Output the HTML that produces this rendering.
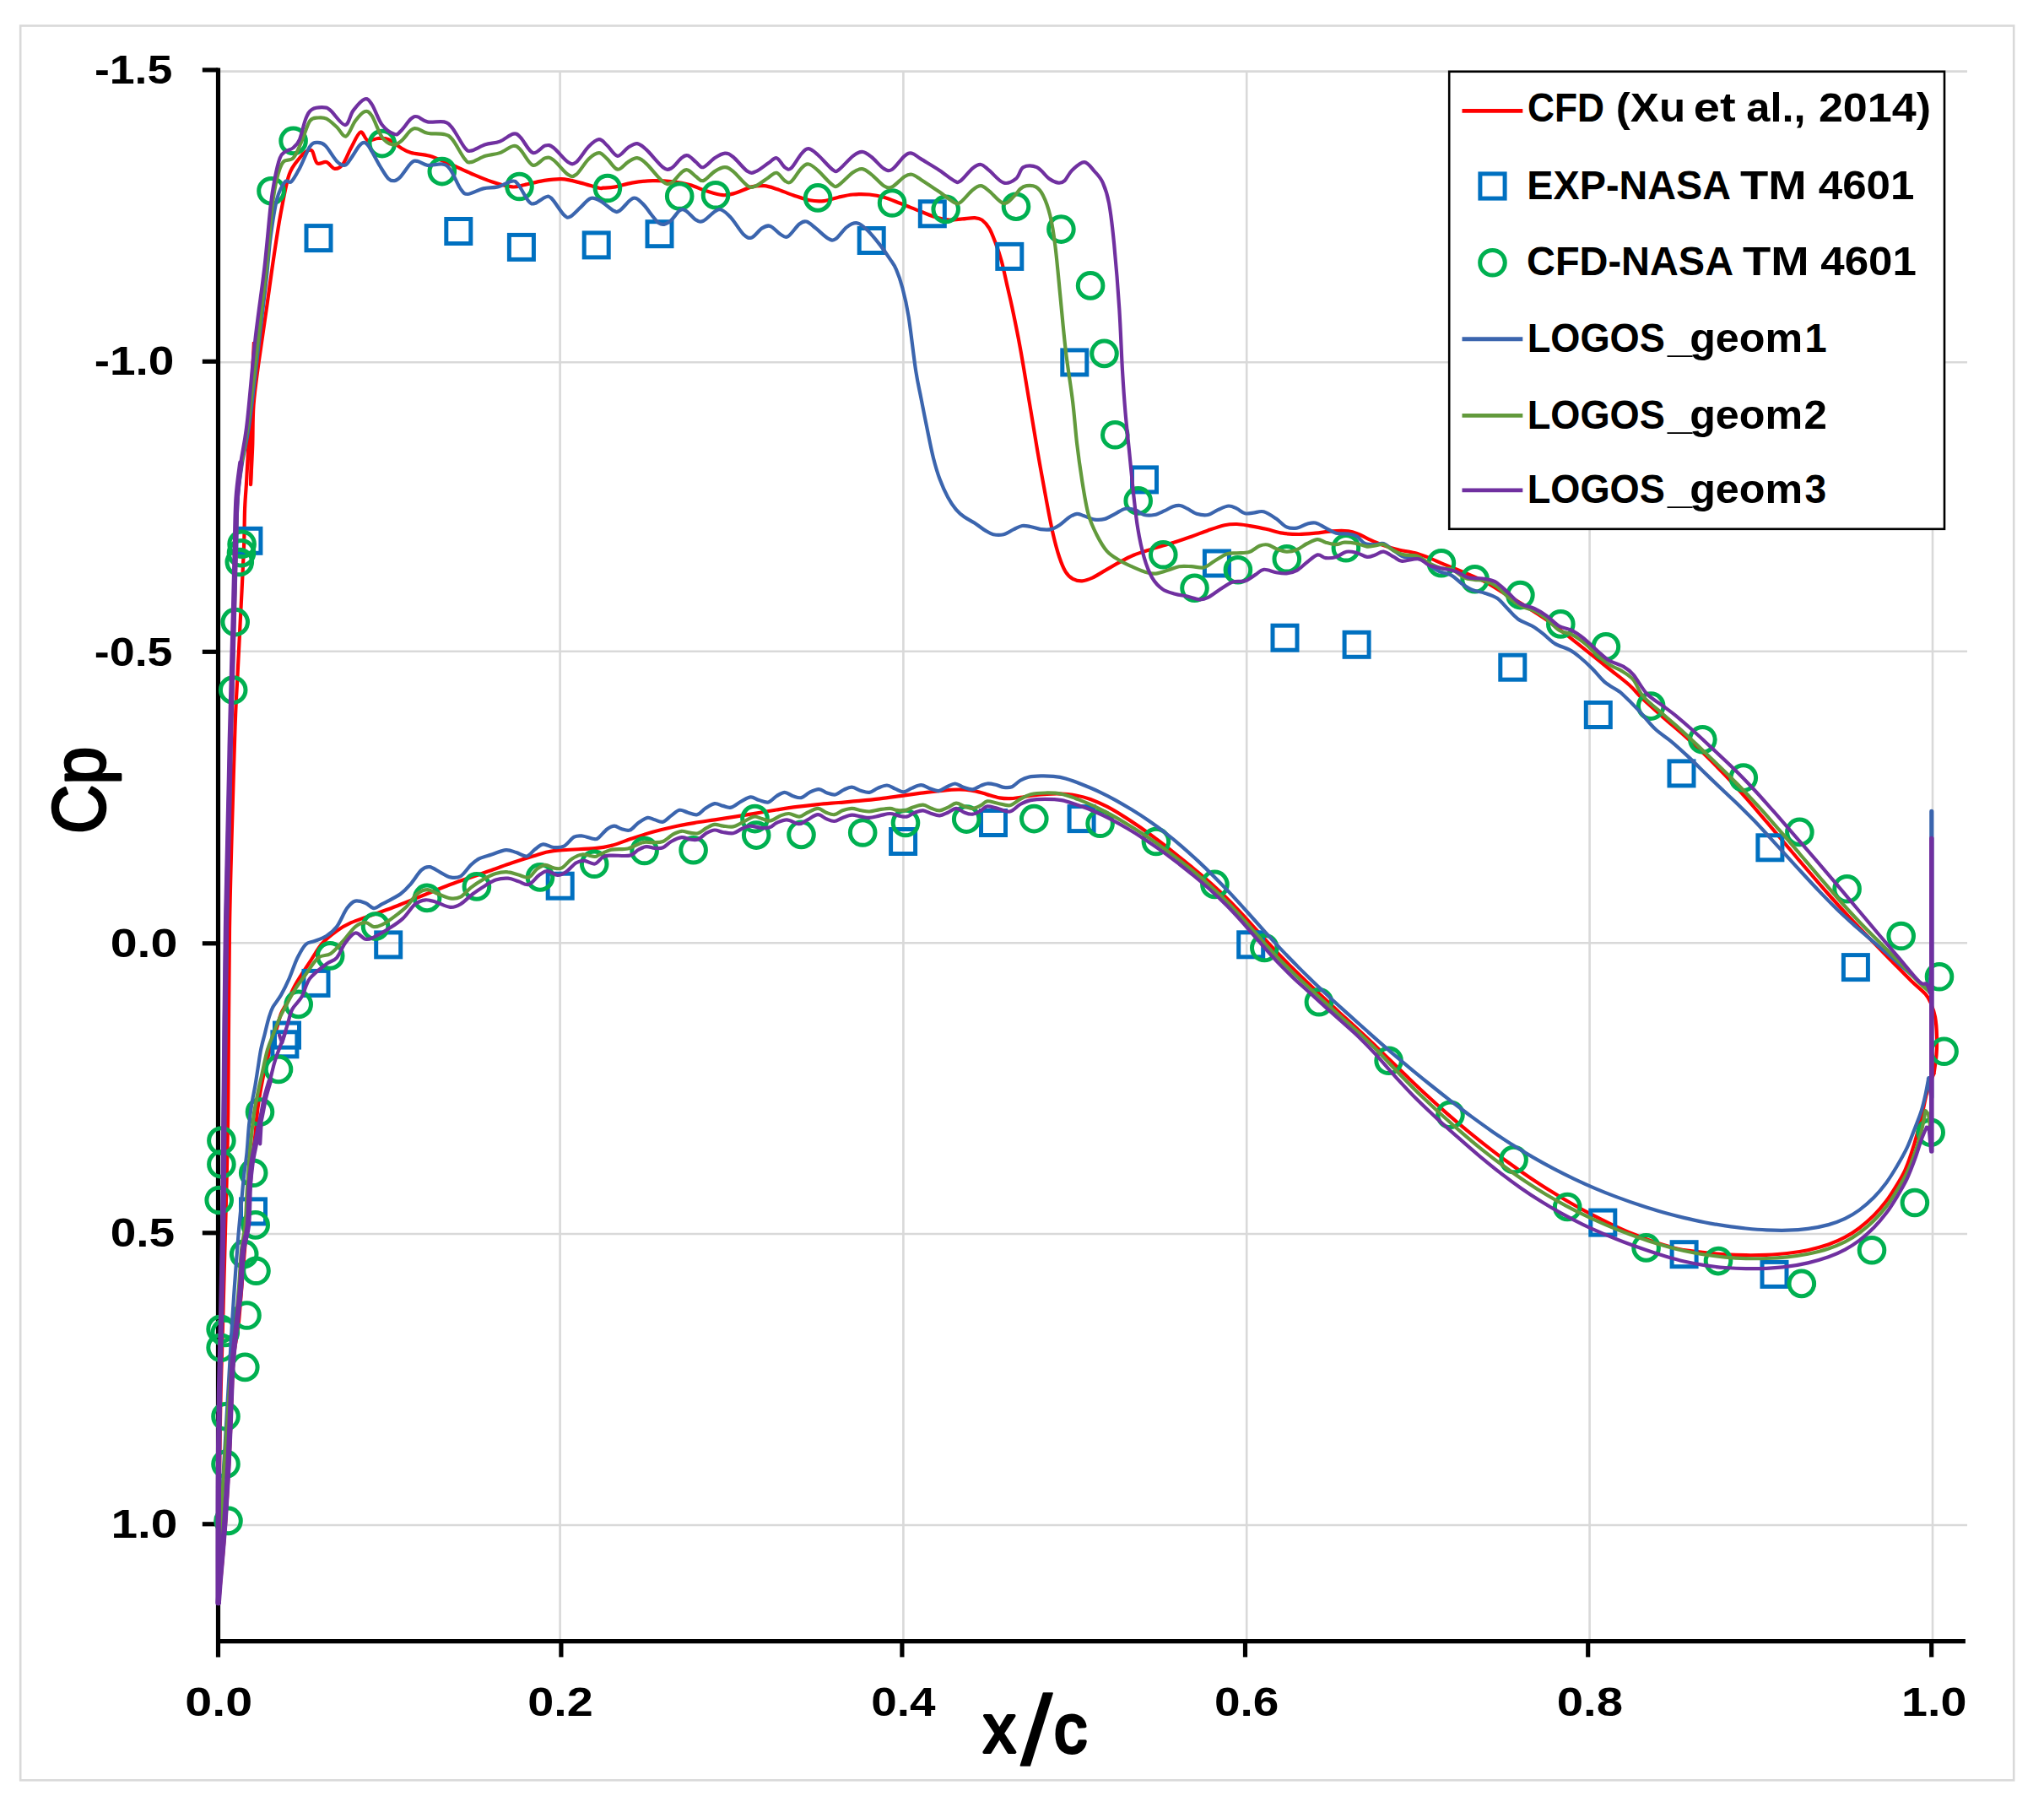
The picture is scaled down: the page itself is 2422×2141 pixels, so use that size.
<!DOCTYPE html>
<html><head><meta charset="utf-8"><title>Cp distribution</title>
<style>html,body{margin:0;padding:0;background:#fff}svg{display:block}</style></head>
<body>
<svg width="2422" height="2141" viewBox="0 0 2422 2141" font-family="&quot;Liberation Sans&quot;, sans-serif" font-weight="bold">
<rect x="0" y="0" width="2422" height="2141" fill="#fff"/>
<rect x="24.2" y="30.5" width="2362" height="2078.8" fill="none" stroke="#D9D9D9" stroke-width="2.6"/>
<line x1="258" y1="84.6" x2="2331" y2="84.6" stroke="#D9D9D9" stroke-width="2.6"/>
<line x1="258" y1="429.2" x2="2331" y2="429.2" stroke="#D9D9D9" stroke-width="2.6"/>
<line x1="258" y1="771.8" x2="2331" y2="771.8" stroke="#D9D9D9" stroke-width="2.6"/>
<line x1="258" y1="1117.3" x2="2331" y2="1117.3" stroke="#D9D9D9" stroke-width="2.6"/>
<line x1="258" y1="1462.0" x2="2331" y2="1462.0" stroke="#D9D9D9" stroke-width="2.6"/>
<line x1="258" y1="1807.0" x2="2331" y2="1807.0" stroke="#D9D9D9" stroke-width="2.6"/>
<line x1="663.6" y1="84.6" x2="663.6" y2="1944" stroke="#D9D9D9" stroke-width="2.6"/>
<line x1="1070.4" y1="84.6" x2="1070.4" y2="1944" stroke="#D9D9D9" stroke-width="2.6"/>
<line x1="1477.2" y1="84.6" x2="1477.2" y2="1944" stroke="#D9D9D9" stroke-width="2.6"/>
<line x1="1883.6" y1="84.6" x2="1883.6" y2="1944" stroke="#D9D9D9" stroke-width="2.6"/>
<line x1="2290.0" y1="84.6" x2="2290.0" y2="1944" stroke="#D9D9D9" stroke-width="2.6"/>
<g stroke="#000" stroke-width="5.2" fill="none">
<line x1="258.5" y1="80.5" x2="258.5" y2="1963.5"/>
<line x1="256" y1="1944.6" x2="2328.9" y2="1944.6"/>
<line x1="239.8" y1="82.9" x2="258.5" y2="82.9"/>
<line x1="239.8" y1="428.3" x2="258.5" y2="428.3"/>
<line x1="239.8" y1="772.3" x2="258.5" y2="772.3"/>
<line x1="239.8" y1="1117.8" x2="258.5" y2="1117.8"/>
<line x1="239.8" y1="1460.8" x2="258.5" y2="1460.8"/>
<line x1="239.8" y1="1805.8" x2="258.5" y2="1805.8"/>
<line x1="664.9" y1="1944.6" x2="664.9" y2="1963.4"/>
<line x1="1068.9" y1="1944.6" x2="1068.9" y2="1963.4"/>
<line x1="1475.5" y1="1944.6" x2="1475.5" y2="1963.4"/>
<line x1="1881.7" y1="1944.6" x2="1881.7" y2="1963.4"/>
<line x1="2288.7" y1="1944.6" x2="2288.7" y2="1963.4"/>
</g>
<g id="red">
<path d="M259.4,1899 C259.4,1882.5 259.5,1827.5 259.6,1800 C259.7,1772.5 259.9,1759 260.2,1734 C260.5,1709 261,1675 261.6,1650 C262.2,1625 262.7,1614.5 263.6,1584 C264.5,1553.5 265.7,1510.8 266.8,1466.8 C267.9,1422.8 269.3,1381.1 270.2,1320 C271.1,1258.9 270.9,1166.7 272,1100 C273.1,1033.3 275.5,962.2 276.7,920 C277.9,877.8 278.3,867.3 279.1,847 C279.9,826.7 280.6,818.4 281.6,798 C282.6,777.6 284.1,749.1 285.3,724.6 C286.5,700.1 288.1,671.6 288.9,651.2 C289.7,630.8 289.6,615.1 290.1,602.3 C290.6,589.5 291.6,578.9 291.9,574.2" fill="none" stroke="#FF0000" stroke-width="4.2" stroke-linecap="round"/>
<path d="M291.9,574.2 L301,405 L297,574.2" fill="none" stroke="#FF0000" stroke-width="4.2" stroke-linejoin="miter"/>
<path d="M297,574.2 C297.4,566.7 298.6,544.7 299.2,529 C299.8,513.3 299.3,496.5 300.5,480 C301.7,463.5 303.9,449 306.5,430 C309.1,411 312.8,386.7 315.8,365.8 C318.8,344.9 321.5,323.8 324.4,304.6 C327.3,285.4 329.9,267.1 333,250.8 C336.1,234.5 339,217.4 342.7,206.8 C346.4,196.2 351.7,191.7 355,187.2 C358.3,182.7 359.9,181.3 362.3,179.9 C364.7,178.5 367.4,176.4 369.6,178.6 C371.9,180.8 372.9,191.1 375.8,193.3 C378.7,195.6 383.3,191 386.8,192.1 C390.3,193.2 393.4,199.5 396.6,199.9 C399.9,200.3 403.1,198.7 406.3,194.5 C409.6,190.3 412.6,181.3 416.1,175 C419.6,168.7 423.8,158 427.1,156.6 C430.4,155.2 432.2,165.2 435.7,166.4 C439.2,167.6 443.8,164.2 447.9,164 C452,163.8 455.7,163.4 460.2,165.2 C464.7,167 470.3,172.3 474.8,175 C479.3,177.7 481.4,179.5 487.1,181.1 C492.8,182.7 501.4,182.6 509.1,184.8 C516.8,187 525.4,191.1 533.5,194.5 C541.6,197.9 549.8,202 558,205.5 C566.2,209 574.4,212.7 582.5,215.3 C590.6,218 600.4,220.8 606.9,221.4 C613.4,222 615.5,220.2 621.6,219 C627.7,217.8 636.3,215.2 643.6,214.1 C650.9,213 658.2,211.8 665.6,212.2 C673,212.6 680.4,214.8 687.7,216.6 C695.1,218.3 705.2,221.7 709.7,222.7 C714.2,223.7 711.4,222.9 714.7,222.7 C718,222.5 723.7,222.4 729.4,221.4 C735.1,220.4 741.6,217.8 748.9,216.6 C756.2,215.4 765.2,214.3 773.4,214.1 C781.5,213.9 790.5,214.5 797.8,215.3 C805.1,216.1 810.9,217.2 817.4,219 C823.9,220.8 830.5,224.3 837,226.3 C843.5,228.3 850.9,230.8 856.6,231.2 C862.3,231.6 865.5,230.4 871.2,228.8 C876.9,227.2 885.1,222.8 890.8,221.4 C896.5,220 900.6,219.8 905.5,220.2 C910.4,220.6 914.5,222.1 920.2,223.9 C925.9,225.7 933.2,229 939.7,231.2 C946.2,233.4 953.2,236.2 959.3,237.3 C965.4,238.5 970.7,238.7 976.4,238.1 C982.1,237.5 987.8,235 993.5,233.7 C999.2,232.4 1004.6,231 1010.7,230.5 C1016.8,230 1024.1,230 1030.2,230.5 C1036.3,231 1041.3,231.9 1047.4,233.7 C1053.5,235.4 1059.6,238.2 1066.9,241 C1074.2,243.8 1084.1,248 1091.4,250.8 C1098.8,253.7 1105.3,256.5 1111,258.1 C1116.7,259.7 1120.7,260.4 1125.6,260.6 C1130.5,260.8 1135.4,259.8 1140.3,259.4 C1145.2,259 1151.1,257.9 1155,258.1 C1158.9,258.3 1160.8,258.6 1163.6,260.6 C1166.4,262.7 1169.4,265.9 1172.1,270.4 C1174.8,274.9 1177,281 1179.5,287.5 C1182,294 1184.4,300.5 1186.8,309.5 C1189.2,318.5 1192,332.3 1194.1,341.3 C1196.1,350.3 1196.6,351.5 1199.1,363.3 C1201.6,375.1 1205.2,392.2 1208.9,412.3 C1212.6,432.4 1217.3,462.3 1221,484 C1224.7,505.7 1227.5,523.9 1230.8,542.7 C1234.1,561.5 1237.8,581.5 1240.6,596.6 C1243.4,611.7 1245.5,622.6 1247.9,633.2 C1250.4,643.8 1252.8,652.9 1255.3,660.2 C1257.8,667.6 1259.9,673 1262.6,677.3 C1265.2,681.6 1267.9,684 1271.2,685.8 C1274.5,687.6 1278.3,688.5 1282.2,688.3 C1286.1,688.1 1289.9,686.6 1294.4,684.6 C1298.9,682.6 1303.8,679.2 1309.1,676.1 C1314.4,673 1320.5,669.4 1326.2,666.3 C1331.9,663.2 1336.8,660.4 1343.3,657.7 C1349.8,655.1 1357.5,652.9 1365.3,650.4 C1373,647.9 1382,645.5 1389.8,643 C1397.5,640.5 1404.9,638.1 1411.8,635.7 C1418.7,633.3 1424.9,630.6 1431.4,628.4 C1437.9,626.1 1445.3,623.4 1451,622.2 C1456.7,621 1460.7,620.9 1465.6,621 C1470.5,621.1 1474.6,622 1480.3,623 C1486,624 1493.5,625.3 1500,626.8 C1506.5,628.2 1513.1,630.7 1519.6,631.7 C1526.1,632.7 1532.6,633 1539.1,633 C1545.6,633 1552.2,632.3 1558.7,631.7 C1565.2,631.1 1571.8,629.7 1578.3,629.3 C1584.8,628.9 1592.5,628.7 1597.8,629.3 C1603.1,629.9 1606,631.4 1610.1,633 C1614.2,634.6 1617.8,637.1 1622.3,639.1 C1626.8,641.1 1631.3,643.2 1637,645.2 C1642.7,647.2 1650.1,649.7 1656.6,651.3 C1663.1,652.9 1670.4,653.6 1676.1,655 C1681.8,656.4 1685.1,657.7 1690.8,659.9 C1696.5,662.1 1703.1,665.3 1710.4,668.4 C1717.7,671.5 1726.7,674.7 1734.8,678.2 C1742.9,681.7 1751.1,684.9 1759.3,689.2 C1767.5,693.5 1775.6,699 1783.8,703.9 C1792,708.8 1800,713.5 1808.2,718.6 C1816.4,723.7 1824.6,728.8 1832.7,734.5 C1840.8,740.2 1848.9,746.5 1857.1,752.8 C1865.2,759.1 1873.4,765.9 1881.6,772.4 C1889.8,778.9 1897.9,785.5 1906.1,792 C1914.2,798.5 1923.8,805.5 1930.5,811.5 C1937.2,817.5 1939.8,821.7 1946.5,828.1 C1953.2,834.5 1962.8,842.9 1970.9,850.1 C1979.1,857.3 1987.2,863.9 1995.4,871.2 C2003.6,878.5 2011.7,885.9 2019.8,893.8 C2027.9,901.7 2036.1,910 2044.3,918.6 C2052.5,927.2 2060.7,936.2 2068.8,945.4 C2077,954.6 2085,964.2 2093.2,973.7 C2101.3,983.3 2109.5,993 2117.7,1002.6 C2125.9,1012.3 2134,1022 2142.2,1031.4 C2150.3,1040.9 2158.4,1050.3 2166.6,1059.5 C2174.8,1068.7 2182.9,1077.7 2191.1,1086.5 C2199.2,1095.2 2207.3,1103.6 2215.5,1112.1 C2223.7,1120.5 2231.8,1128.9 2240,1137.2 C2248.2,1145.5 2257.6,1155.2 2264.5,1162 C2271.4,1168.8 2277.7,1173.4 2281.6,1177.9 C2285.5,1182.4 2286.1,1184.5 2288,1189 C2289.9,1193.5 2291.8,1198.5 2293,1205 C2294.2,1211.5 2294.8,1220.5 2295,1228 C2295.2,1235.5 2295.1,1242.7 2294.5,1250 C2293.9,1257.3 2292,1268.3 2291.5,1272" fill="none" stroke="#FF0000" stroke-width="4.2" stroke-linecap="round"/>
<path d="M2291.5,1272 C2290.2,1275.3 2286.3,1283.9 2284,1291.7 C2281.7,1299.5 2279.9,1310 2277.9,1318.6 C2275.9,1327.1 2274,1334.8 2271.8,1343 C2269.6,1351.2 2266.9,1360.2 2264.5,1367.5 C2262.1,1374.8 2260,1380.9 2257.1,1387.1 C2254.2,1393.3 2251,1398.6 2247.3,1404.6 C2243.6,1410.6 2239.6,1417.2 2235.1,1423.1 C2230.6,1429 2225.7,1434.8 2220.4,1440.1 C2215.1,1445.4 2209,1450.7 2203.3,1455 C2197.6,1459.3 2192.3,1462.7 2186.2,1465.9 C2180.1,1469.2 2173.9,1471.9 2166.6,1474.5 C2159.3,1477 2150.3,1479.4 2142.2,1481.2 C2134,1482.9 2125.9,1484.1 2117.7,1485 C2109.5,1486 2101.3,1486.5 2093.2,1486.8 C2085,1487.2 2077,1487.3 2068.8,1487.2 C2060.7,1487.1 2052.5,1486.8 2044.3,1486.3 C2036.1,1485.8 2027.9,1485.1 2019.8,1484.2 C2011.7,1483.3 2001.5,1482 1995.4,1481.1 C1989.3,1480.1 1989.3,1480.2 1983.2,1478.5 C1977.1,1476.9 1966.9,1473.9 1958.7,1471.1 C1950.5,1468.3 1942.5,1465.2 1934.3,1461.8 C1926.1,1458.5 1918,1454.8 1909.8,1450.9 C1901.6,1447 1893.4,1442.9 1885.3,1438.7 C1877.2,1434.4 1869.1,1429.9 1860.9,1425.2 C1852.8,1420.6 1844.6,1415.6 1836.4,1410.5 C1828.2,1405.5 1820.2,1400.2 1812,1394.7 C1803.8,1389.2 1795.7,1383.4 1787.5,1377.5 C1779.3,1371.6 1771.2,1365.5 1763,1359.1 C1754.8,1352.8 1746.8,1346.3 1738.6,1339.6 C1730.4,1332.9 1722.3,1326 1714.1,1318.8 C1705.9,1311.6 1697.8,1304.3 1689.6,1296.7 C1681.4,1289.2 1676,1283.9 1665.2,1273.5 C1654.4,1263.1 1634.8,1243.9 1624.8,1234.4 C1614.8,1224.8 1611.7,1222.1 1605.2,1216.1 C1598.7,1210 1592.1,1204.2 1585.6,1198.2 C1579.1,1192.3 1572.6,1186.2 1566.1,1180.1 C1559.6,1174 1553,1167.8 1546.5,1161.5 C1540,1155.2 1533.4,1149 1526.9,1142.5 C1520.4,1135.9 1513.9,1129.2 1507.4,1122.2 C1500.9,1115.3 1494.3,1107.8 1487.8,1100.6 C1481.3,1093.5 1474.7,1086 1468.2,1079.1 C1461.7,1072.2 1455.1,1065.6 1448.6,1059.3 C1442.1,1053.1 1435.6,1047.3 1429.1,1041.6 C1422.6,1035.9 1416,1030.6 1409.5,1025.2 C1403,1019.8 1396.4,1014.5 1389.9,1009.3 C1383.4,1004.2 1376.9,999.1 1370.4,994.3 C1363.9,989.4 1357.3,984.6 1350.8,980.1 C1344.3,975.6 1337.7,971.1 1331.2,967.1 C1324.7,963 1318.2,959.1 1311.7,955.7 C1305.2,952.4 1298.2,949.3 1292.1,947 C1286,944.8 1280.7,943.5 1275,942.5 C1269.3,941.4 1263.5,940.9 1257.8,940.6 C1252.1,940.3 1246.4,940.5 1240.7,940.8 C1235,941.1 1228.9,941.8 1223.6,942.5 C1218.3,943.2 1213.4,944.2 1208.9,944.8 C1204.4,945.4 1200.8,946.1 1196.7,946.2 C1192.6,946.3 1188.6,946.1 1184.5,945.4 C1180.4,944.7 1175.5,943.1 1172.2,942.1 C1168.9,941.2 1168.5,940.7 1164.8,939.7 C1161.1,938.7 1155,937 1150.1,936.3 C1145.2,935.6 1141.1,935.4 1135.4,935.5 C1129.7,935.5 1123.2,936.1 1115.9,936.8 C1108.6,937.5 1099.6,938.7 1091.4,939.7 C1083.2,940.8 1075.1,942 1066.9,943.1 C1058.8,944.2 1050.7,945.4 1042.5,946.3 C1034.3,947.3 1026.2,948.1 1018,948.9 C1009.8,949.7 1001.6,950.3 993.5,951 C985.4,951.7 977.2,952.2 969.1,953.1 C961,953.9 952.8,954.8 944.6,955.9 C936.5,956.9 928.4,958.2 920.2,959.5 C912.1,960.8 903.9,962.3 895.7,963.6 C887.5,964.9 879.4,966.3 871.2,967.6 C863.1,968.8 854.9,970 846.8,971.3 C838.6,972.6 830.5,973.7 822.3,975.1 C814.1,976.5 805.9,977.9 797.8,979.7 C789.6,981.5 781.5,983.5 773.4,985.8 C765.2,988.1 757,990.8 748.9,993.5 C740.8,996.2 731.9,999.9 724.5,1001.9 C717.1,1003.9 716.2,1004.2 704.8,1005.2 C693.4,1006.2 668.1,1006.6 655.9,1008.1 C643.7,1009.6 639.6,1012.1 631.4,1014.5 C623.2,1016.9 615,1019.6 606.9,1022.3 C598.8,1025 590.6,1028.1 582.5,1030.9 C574.4,1033.8 566.2,1036.6 558,1039.4 C549.8,1042.2 541.6,1044.9 533.5,1048 C525.4,1051.1 517.2,1054.5 509.1,1057.8 C501,1061.1 492.8,1064.3 484.6,1067.6 C476.5,1070.8 468.4,1074.2 460.2,1077.3 C452,1080.3 443,1083.2 435.7,1085.9 C428.4,1088.6 422.2,1090.4 416.1,1093.2 C410,1096 404.7,1098.9 399,1103 C393.3,1107.1 387.2,1111.6 381.9,1117.7 C376.6,1123.8 372.5,1131.6 367.2,1139.7 C361.9,1147.8 354.6,1158.5 350.1,1166.6 C345.6,1174.6 342.9,1182.3 340,1188 C337.1,1193.7 334.8,1196.5 333,1201 C331.2,1205.5 330.7,1209.5 329,1215 C327.3,1220.5 324.8,1228.3 323,1234 C321.2,1239.7 320.4,1241.3 318.4,1249 C316.4,1256.7 313.1,1269.4 311,1280 C308.9,1290.6 306.9,1302 305.5,1312.8 C304.1,1323.6 303.6,1333.8 302.4,1345 C301.2,1356.2 299.8,1365.8 298.5,1380 C297.2,1394.2 295.9,1413.3 294.5,1430 C293.1,1446.7 291.4,1463.3 290,1480 C288.6,1496.7 287.3,1514.7 286,1530 C284.7,1545.3 283.7,1560.3 282.3,1572 C280.9,1583.7 278.9,1591.2 277.8,1600 C276.7,1608.8 276.3,1616.7 275.8,1625 C275.3,1633.3 275.2,1639.2 274.8,1650 C274.4,1660.8 273.9,1675.8 273.3,1690 C272.7,1704.2 272,1721.7 271.3,1735 C270.6,1748.3 270,1758.8 269.3,1770 C268.6,1781.2 268.1,1790.3 267.3,1802 C266.5,1813.7 265.3,1827.8 264.3,1840 C263.3,1852.2 262.1,1865.2 261.2,1875 C260.3,1884.8 259.5,1895 259.2,1899" fill="none" stroke="#FF0000" stroke-width="4.2" stroke-linecap="round"/>
</g>
<g id="sq" fill="none" stroke="#0070C0" stroke-width="5">
<rect x="363" y="267.6" width="29" height="29"/>
<rect x="528.8" y="259.5" width="29" height="29"/>
<rect x="603.4" y="278.4" width="29" height="29"/>
<rect x="692.2" y="275.9" width="29" height="29"/>
<rect x="767" y="262.7" width="29" height="29"/>
<rect x="1018.2" y="270.5" width="29" height="29"/>
<rect x="1090.3" y="238.8" width="29" height="29"/>
<rect x="1181.8" y="289.4" width="29" height="29"/>
<rect x="1258.8" y="414.9" width="29" height="29"/>
<rect x="1341.5" y="553.9" width="29" height="29"/>
<rect x="1427.4" y="653" width="29" height="29"/>
<rect x="1508" y="741.2" width="29" height="29"/>
<rect x="1593.1" y="749.3" width="29" height="29"/>
<rect x="1777.8" y="776.2" width="29" height="29"/>
<rect x="1879.3" y="832.5" width="29" height="29"/>
<rect x="1978" y="901.9" width="29" height="29"/>
<rect x="2082.9" y="989.8" width="29" height="29"/>
<rect x="2184.4" y="1131.6" width="29" height="29"/>
<rect x="279.9" y="626.3" width="29" height="29"/>
<rect x="325.5" y="1212.1" width="29" height="29"/>
<rect x="322.9" y="1222.8" width="29" height="29"/>
<rect x="360" y="1150.4" width="29" height="29"/>
<rect x="445.7" y="1104.9" width="29" height="29"/>
<rect x="649.2" y="1035.2" width="29" height="29"/>
<rect x="1055.6" y="982.5" width="29" height="29"/>
<rect x="1162.5" y="960.5" width="29" height="29"/>
<rect x="1267.1" y="955.6" width="29" height="29"/>
<rect x="1467.7" y="1104.8" width="29" height="29"/>
<rect x="1884.8" y="1434.1" width="29" height="29"/>
<rect x="1981.1" y="1471.7" width="29" height="29"/>
<rect x="2088" y="1495.4" width="29" height="29"/>
<rect x="285.5" y="1420.9" width="29" height="29"/>
</g>
<g id="ci" fill="none" stroke="#00B050" stroke-width="5">
<circle cx="321.5" cy="226.3" r="14.8"/>
<circle cx="347.6" cy="166.9" r="14.8"/>
<circle cx="452.8" cy="170.1" r="14.8"/>
<circle cx="523.8" cy="203.1" r="14.8"/>
<circle cx="615.5" cy="221" r="14.8"/>
<circle cx="719.9" cy="223" r="14.8"/>
<circle cx="805.2" cy="232.5" r="14.8"/>
<circle cx="848" cy="231.2" r="14.8"/>
<circle cx="969.1" cy="234.4" r="14.8"/>
<circle cx="1057.1" cy="240.5" r="14.8"/>
<circle cx="1120.7" cy="247.9" r="14.8"/>
<circle cx="1204" cy="244.7" r="14.8"/>
<circle cx="1257.4" cy="271.6" r="14.8"/>
<circle cx="1292.1" cy="338.4" r="14.8"/>
<circle cx="1308.5" cy="418.9" r="14.8"/>
<circle cx="1321.3" cy="515.3" r="14.8"/>
<circle cx="1348.7" cy="593.4" r="14.8"/>
<circle cx="1378.3" cy="657.2" r="14.8"/>
<circle cx="1415.5" cy="696.8" r="14.8"/>
<circle cx="1466.9" cy="675.3" r="14.8"/>
<circle cx="1524.8" cy="662.2" r="14.8"/>
<circle cx="1594.9" cy="649.3" r="14.8"/>
<circle cx="1707.9" cy="667.2" r="14.8"/>
<circle cx="1747.6" cy="686.3" r="14.8"/>
<circle cx="1801.4" cy="705.1" r="14.8"/>
<circle cx="1849.3" cy="739.4" r="14.8"/>
<circle cx="1902.9" cy="766.3" r="14.8"/>
<circle cx="1956.2" cy="836.6" r="14.8"/>
<circle cx="2017.4" cy="876.3" r="14.8"/>
<circle cx="2065.8" cy="921.6" r="14.8"/>
<circle cx="2132.4" cy="985.9" r="14.8"/>
<circle cx="2188.6" cy="1053.2" r="14.8"/>
<circle cx="2252.7" cy="1109" r="14.8"/>
<circle cx="2298" cy="1157.3" r="14.8"/>
<circle cx="2303.6" cy="1245.7" r="14.8"/>
<circle cx="2287.7" cy="1341.8" r="14.8"/>
<circle cx="2268.9" cy="1425" r="14.8"/>
<circle cx="2218" cy="1481.2" r="14.8"/>
<circle cx="2134.8" cy="1520.9" r="14.8"/>
<circle cx="2036" cy="1494.1" r="14.8"/>
<circle cx="1950.6" cy="1478.4" r="14.8"/>
<circle cx="1857.2" cy="1430" r="14.8"/>
<circle cx="1793.6" cy="1374" r="14.8"/>
<circle cx="1718.5" cy="1320.7" r="14.8"/>
<circle cx="1645.6" cy="1256.8" r="14.8"/>
<circle cx="1562.9" cy="1187.3" r="14.8"/>
<circle cx="1498.3" cy="1123" r="14.8"/>
<circle cx="1439.4" cy="1047.9" r="14.8"/>
<circle cx="1369.9" cy="997" r="14.8"/>
<circle cx="1303.6" cy="975.7" r="14.8"/>
<circle cx="1225.3" cy="970.1" r="14.8"/>
<circle cx="1145.2" cy="970.6" r="14.8"/>
<circle cx="1073" cy="975" r="14.8"/>
<circle cx="1022.2" cy="986.5" r="14.8"/>
<circle cx="949.5" cy="988.9" r="14.8"/>
<circle cx="896.2" cy="989.6" r="14.8"/>
<circle cx="894.5" cy="970.1" r="14.8"/>
<circle cx="821.6" cy="1007.3" r="14.8"/>
<circle cx="763.6" cy="1008" r="14.8"/>
<circle cx="704.2" cy="1023.7" r="14.8"/>
<circle cx="640" cy="1039.4" r="14.8"/>
<circle cx="564.9" cy="1050.4" r="14.8"/>
<circle cx="506.1" cy="1063.9" r="14.8"/>
<circle cx="445" cy="1097.6" r="14.8"/>
<circle cx="391.2" cy="1132.4" r="14.8"/>
<circle cx="353.7" cy="1189.9" r="14.8"/>
<circle cx="330" cy="1266.9" r="14.8"/>
<circle cx="308" cy="1317.6" r="14.8"/>
<circle cx="286.6" cy="644.8" r="14.8"/>
<circle cx="286" cy="655.2" r="14.8"/>
<circle cx="283.8" cy="666" r="14.8"/>
<circle cx="278.7" cy="737.1" r="14.8"/>
<circle cx="276.2" cy="817.6" r="14.8"/>
<circle cx="262.4" cy="1351.6" r="14.8"/>
<circle cx="262.4" cy="1379.4" r="14.8"/>
<circle cx="259.7" cy="1422" r="14.8"/>
<circle cx="300.2" cy="1389.7" r="14.8"/>
<circle cx="302.7" cy="1451.4" r="14.8"/>
<circle cx="289.2" cy="1485.9" r="14.8"/>
<circle cx="303.5" cy="1505.7" r="14.8"/>
<circle cx="292.5" cy="1558.5" r="14.8"/>
<circle cx="261.6" cy="1574.7" r="14.8"/>
<circle cx="266.8" cy="1579" r="14.8"/>
<circle cx="261.6" cy="1596.7" r="14.8"/>
<circle cx="290.3" cy="1619.9" r="14.8"/>
<circle cx="267.5" cy="1678.2" r="14.8"/>
<circle cx="267.5" cy="1734.7" r="14.8"/>
<circle cx="270.5" cy="1801.9" r="14.8"/>
</g>
<g id="g1">
<path d="M259.2,1899 C259.2,1882.5 259,1827.5 259,1800 C259,1772.5 259,1759 259.2,1734 C259.4,1709 259.6,1675 260,1650 C260.4,1625 260.8,1617.3 261.4,1584 C262,1550.7 263.1,1490.7 263.6,1450 C264.1,1409.3 264,1398.3 264.6,1340 C265.2,1281.7 266.2,1170 267.4,1100 C268.6,1030 270.7,958.2 271.6,920 C272.5,881.8 272.2,891.3 272.8,871 C273.4,850.7 274.2,822.4 275,798 C275.8,773.6 276.6,749.1 277.4,724.6 C278.2,700.1 278.9,673.4 279.6,651 C280.3,628.6 280.6,607.1 281.8,590 C283,572.9 284.7,563.2 287,548.5 C289.3,533.8 292.1,526.3 295.5,502 C298.9,477.7 303.9,431.3 307.3,402.5 C310.7,373.7 313.6,349.5 315.8,329.1 C318,308.7 318.6,295.7 320.7,280.2 C322.8,264.7 325.2,246.9 328.1,236.1 C331,225.3 335,218.8 337.8,215.3 C340.6,211.8 342.3,218 345.2,215.3 C348.1,212.7 351.3,206.3 355,199.4 C358.7,192.5 363.7,178.8 367.2,173.7 C370.7,168.6 372.8,169.1 375.8,168.9 C378.9,168.7 381.6,168.8 385.5,172.5 C389.4,176.2 395.1,187 399,190.9 C402.9,194.8 405.9,196.4 408.8,195.8 C411.7,195.2 413.2,191.1 416.1,187.2 C419,183.3 423.2,175.6 425.9,172.5 C428.5,169.4 430,168.5 432,168.9 C434,169.3 435,170.3 438.1,175 C441.2,179.7 446.7,190.9 450.4,197 C454.1,203.1 457.3,208.8 460.2,211.7 C463.1,214.5 465.1,214.5 467.5,214.1 C469.9,213.7 471.5,212.7 474.8,209.2 C478.1,205.7 483.8,196.4 487.1,193.3 C490.4,190.2 491.1,190.5 494.4,190.9 C497.6,191.3 501.7,195.2 506.6,195.8 C511.5,196.4 519.3,193.7 523.8,194.5 C528.3,195.3 529.8,195.8 533.5,200.7 C537.2,205.6 542.3,219 545.8,223.9 C549.3,228.8 549.8,230.1 554.3,230 C558.8,229.9 566.8,224.8 572.7,223.4 C578.6,222 584.1,222.9 589.8,221.4 C595.5,219.9 602.8,215 606.9,214.6 C611,214.2 611,215 614.3,219 C617.6,223 623.2,234.9 626.5,238.6 C629.8,242.3 630.5,241.8 633.8,241 C637.1,240.2 642.8,234.7 646.1,233.7 C649.4,232.7 649.7,231.4 653.4,234.9 C657.1,238.4 664.4,250.8 668.1,254.5 C671.8,258.2 672.1,258.3 675.4,256.9 C678.7,255.5 683.6,249.6 687.7,245.9 C691.8,242.2 695.9,236.1 700,234.9 C704.1,233.7 707.7,236.2 712.2,238.6 C716.7,241 723.2,247.8 726.9,249.6 C730.6,251.4 730.9,251.6 734.2,249.6 C737.5,247.6 743.2,239.8 746.5,237.3 C749.8,234.9 750.9,233.9 753.8,234.9 C756.6,235.9 759.1,238.6 763.6,243.5 C768.1,248.4 775.8,261.1 780.7,264.3 C785.6,267.6 788.9,265.4 793,263 C797.1,260.6 802,251.8 805.2,249.6 C808.5,247.4 809.2,247.8 812.5,249.6 C815.8,251.4 821.3,258.6 824.8,260.6 C828.3,262.6 829.6,263.4 833.3,261.8 C837,260.2 843.3,253 846.8,250.8 C850.3,248.6 850.9,247.2 854.1,248.4 C857.4,249.6 861.8,253.2 866.3,258.1 C870.8,263 876.9,273.8 881,277.7 C885.1,281.6 887.1,282.6 890.8,281.4 C894.5,280.2 899.3,272.6 903,270.4 C906.7,268.1 909.1,266.7 912.8,267.9 C916.5,269.1 921.5,275.6 925,277.7 C928.5,279.8 929.9,282.2 933.6,280.2 C937.3,278.2 943.4,268.4 947.1,265.5 C950.8,262.6 952.4,261.7 955.6,262.5 C958.9,263.3 962.3,267 966.6,270.4 C970.9,273.8 977.4,280.5 981.3,282.6 C985.2,284.8 986.2,285.6 989.9,283.3 C993.6,281.1 999,272.3 1003.3,269.1 C1007.6,265.9 1011.5,263.7 1015.6,264.3 C1019.7,264.9 1023.3,268.5 1027.8,272.8 C1032.3,277.1 1038,284.2 1042.5,289.9 C1047,295.6 1051.5,302.2 1054.7,307.1 C1058,312 1059.5,313.6 1062,319.3 C1064.5,325 1067,331.9 1069.4,341.3 C1071.9,350.7 1074.1,359.2 1076.7,375.6 C1079.3,392.1 1082.8,424 1085.3,440 C1087.8,456 1089.2,460.4 1091.4,471.8 C1093.6,483.2 1096.3,496.7 1098.7,508.5 C1101.1,520.3 1103.5,532.9 1106,542.7 C1108.5,552.5 1110.5,559.5 1113.4,567.2 C1116.3,575 1119.9,583.1 1123.2,589.2 C1126.5,595.3 1129.8,600 1133,603.9 C1136.2,607.8 1139,609.9 1142.7,612.5 C1146.4,615.1 1150.9,617.1 1155,619.8 C1159.1,622.4 1163.5,626.2 1167.2,628.4 C1170.9,630.6 1173.3,632.4 1177,633.2 C1180.7,634 1185.1,634.2 1189.2,633.2 C1193.3,632.2 1197.7,628.8 1201.4,627.1 C1205.1,625.4 1207.9,623.5 1211.2,623 C1214.5,622.5 1217.3,623.3 1221,624 C1224.7,624.7 1229.1,626.6 1233.2,627.1 C1237.3,627.6 1241.8,627.9 1245.5,627.1 C1249.2,626.3 1251.6,624.6 1255.3,622.2 C1259,619.8 1264,614.7 1267.5,612.5 C1271,610.3 1273.2,609 1276.1,608.8 C1278.9,608.6 1281.1,610.1 1284.6,611.2 C1288,612.3 1292.7,615 1296.8,615.6 C1300.9,616.2 1305,616 1309.1,614.9 C1313.2,613.8 1317.2,610.8 1321.3,608.8 C1325.4,606.8 1329.4,603.4 1333.5,602.7 C1337.6,602 1342.1,603.2 1345.8,604.4 C1349.5,605.6 1351.9,609.1 1355.6,610 C1359.3,610.9 1363.7,610.8 1367.8,610 C1371.9,609.2 1376.3,606.7 1380,605.1 C1383.7,603.5 1386.7,601.2 1389.8,600.2 C1392.9,599.2 1395.6,598.6 1398.4,599 C1401.2,599.4 1403.7,601.1 1406.9,602.7 C1410.2,604.3 1413.8,607.6 1417.9,608.8 C1422,610 1427.1,610.8 1431.4,610 C1435.7,609.2 1439.5,605.6 1443.6,603.9 C1447.7,602.1 1452.2,599.7 1455.9,599.5 C1459.6,599.3 1462.3,601.2 1465.6,602.7 C1468.8,604.2 1472.1,607.5 1475.4,608.3 C1478.7,609.1 1481.5,607.9 1485.2,607.6 C1488.9,607.3 1492.9,605.1 1497.4,606.3 C1501.9,607.5 1507.7,611.6 1512.2,614.6 C1516.7,617.6 1520.4,622.6 1524.5,624.4 C1528.6,626.2 1532.6,626.2 1536.7,625.6 C1540.8,625 1545.2,621.7 1548.9,620.7 C1552.6,619.7 1555,618.7 1558.7,619.5 C1562.4,620.3 1566.8,623.6 1570.9,625.6 C1575,627.6 1578.7,630.6 1583.2,631.7 C1587.7,632.9 1593.7,631.9 1597.8,632.5 C1601.9,633.1 1604.3,633.5 1607.6,635.4 C1610.9,637.3 1613.7,642.4 1617.4,644 C1621.1,645.6 1625.9,645.2 1629.6,645.2 C1633.3,645.2 1635.7,642.8 1639.4,644 C1643.1,645.2 1647.6,649.9 1651.7,652.5 C1655.8,655.1 1659,658.7 1663.9,659.9 C1668.8,661.1 1676.1,658.3 1681,659.9 C1685.9,661.5 1689.1,666.8 1693.2,669.6 C1697.3,672.5 1701,675 1705.5,677 C1710,679 1715.7,679.4 1720.2,681.9 C1724.7,684.4 1728.3,688.9 1732.4,691.7 C1736.5,694.6 1740.1,697.2 1744.6,699 C1749.1,700.8 1754.4,701.1 1759.3,702.7 C1764.2,704.3 1769.5,705.8 1774,708.8 C1778.5,711.8 1782.1,716.9 1786.2,721 C1790.3,725.1 1793.5,729.7 1798.4,733.2 C1803.3,736.7 1810.7,738.9 1815.6,741.8 C1820.5,744.7 1823.3,746.9 1827.8,750.4 C1832.3,753.9 1837.2,759.4 1842.5,762.6 C1847.8,765.9 1854.7,767.2 1859.6,769.9 C1864.5,772.5 1867.3,774.8 1871.8,778.5 C1876.3,782.2 1881.6,787.1 1886.5,792 C1891.4,796.9 1896.3,803.6 1901.2,807.9 C1906.1,812.2 1912.4,815.2 1915.9,817.6 C1919.4,820 1917.7,818 1922,822 C1926.3,826 1935.1,834.7 1941.6,841.6 C1948.1,848.5 1954.6,857.4 1961.1,863.6 C1967.6,869.8 1974.2,873.4 1980.7,878.8 C1987.2,884.3 1993.8,890.3 2000.3,896.4 C2006.8,902.5 2013.3,909.1 2019.8,915.5 C2026.3,921.8 2032.9,928.1 2039.4,934.3 C2045.9,940.5 2052.5,946.4 2059,952.7 C2065.5,959.1 2072.1,965.6 2078.6,972.3 C2085.1,979.1 2091.6,986.2 2098.1,993.3 C2104.6,1000.4 2111.2,1007.7 2117.7,1014.9 C2124.2,1022.1 2130.8,1029.3 2137.3,1036.3 C2143.8,1043.4 2150.3,1050.4 2156.8,1057.1 C2163.3,1063.9 2169.9,1070.6 2176.4,1076.9 C2182.9,1083.2 2189.5,1089.2 2196,1095.1 C2202.5,1100.9 2208.2,1105.7 2215.5,1112.1 C2222.8,1118.4 2231.8,1126.1 2240,1133.2 C2248.2,1140.3 2257.2,1148.3 2264.5,1154.7 C2271.8,1161.1 2280.8,1169 2284,1171.8" fill="none" stroke="#3B65AE" stroke-width="4.2" stroke-linejoin="round" stroke-linecap="round"/>
<path d="M2284,1171.8 L2286,1174 L2288.8,1150 L2288.8,961.4 L2288.8,1300 L2285.3,1277 L2285.3,1277" fill="none" stroke="#3B65AE" stroke-width="5.2" stroke-linejoin="round" stroke-linecap="butt"/>
<path d="M2285.3,1277 C2284.7,1280.3 2283,1290.1 2281.6,1296.6 C2280.2,1303.1 2278.7,1309.6 2276.7,1316.1 C2274.7,1322.6 2272.2,1328.3 2269.4,1335.7 C2266.6,1343.1 2263.3,1352.4 2259.6,1360.2 C2255.9,1368 2251.4,1375.6 2247.3,1382.5 C2243.2,1389.4 2239.6,1395.3 2235.1,1401.4 C2230.6,1407.4 2225.7,1413.4 2220.4,1418.8 C2215.1,1424.2 2209,1429.5 2203.3,1433.6 C2197.6,1437.8 2192.3,1440.9 2186.2,1443.9 C2180.1,1446.8 2173.9,1449.1 2166.6,1451.1 C2159.3,1453.1 2150.3,1454.8 2142.2,1455.9 C2134,1457 2125.9,1457.5 2117.7,1457.7 C2109.5,1457.9 2101.3,1457.7 2093.2,1457.3 C2085,1457 2077,1456.3 2068.8,1455.5 C2060.7,1454.7 2052.5,1453.6 2044.3,1452.4 C2036.1,1451.2 2027.9,1449.8 2019.8,1448.2 C2011.7,1446.6 2003.6,1444.8 1995.4,1442.9 C1987.2,1441 1979.1,1438.9 1970.9,1436.6 C1962.8,1434.3 1955.9,1432.3 1946.5,1429.1 C1937.1,1426 1924.1,1421.4 1914.7,1417.9 C1905.3,1414.4 1898.4,1411.6 1890.2,1408.1 C1882,1404.6 1874,1401 1865.8,1397.1 C1857.6,1393.2 1849.5,1389.2 1841.3,1384.9 C1833.1,1380.6 1824.9,1376.1 1816.8,1371.4 C1808.7,1366.7 1800.6,1361.8 1792.4,1356.6 C1784.2,1351.5 1776.1,1346 1767.9,1340.4 C1759.8,1334.8 1751.7,1328.9 1743.5,1322.9 C1735.3,1316.9 1727.2,1310.6 1719,1304.3 C1710.8,1298 1702.7,1291.6 1694.5,1285 C1686.3,1278.5 1678.2,1271.9 1670.1,1265.1 C1661.9,1258.3 1653.8,1251.3 1645.6,1244.3 C1637.4,1237.2 1629.3,1230 1621.2,1222.8 C1613.1,1215.6 1604.2,1207.7 1596.7,1200.9 C1589.2,1194.1 1582.6,1188.2 1575.9,1182 C1569.2,1175.7 1562.8,1169.8 1556.3,1163.5 C1549.8,1157.1 1543.2,1150.7 1536.7,1144.1 C1530.2,1137.5 1523.6,1130.8 1517.1,1123.9 C1510.6,1116.9 1504.1,1109.8 1497.6,1102.6 C1491.1,1095.4 1484.5,1087.9 1478,1080.6 C1471.5,1073.4 1464.9,1066.1 1458.4,1059.1 C1451.9,1052.2 1445.4,1045.4 1438.9,1038.9 C1432.4,1032.4 1425.8,1026 1419.3,1019.9 C1412.8,1013.8 1406.2,1007.9 1399.7,1002.3 C1393.2,996.6 1386.7,991.3 1380.2,986.3 C1373.7,981.2 1367.1,976.5 1360.6,972 C1354.1,967.5 1347.5,963.3 1341,959.3 C1334.5,955.3 1327.9,951.4 1321.4,947.8 C1314.9,944.2 1308.4,940.9 1301.9,937.8 C1295.4,934.8 1288.8,932.1 1282.3,929.5 C1275.8,926.9 1268.4,924 1262.7,922.4 C1257,920.8 1253,920.4 1248.1,919.9 C1243.2,919.4 1238.3,919.3 1233.4,919.4 C1228.5,919.5 1222.8,919.8 1218.7,920.7 C1214.6,921.6 1212.2,922.9 1208.9,924.8 C1205.6,926.7 1202.3,930.9 1199.1,932.2 C1195.8,933.6 1192.7,933.3 1189.4,932.9 C1186.2,932.5 1182.9,930.4 1179.6,929.7 C1176.3,929 1172.7,928.3 1169.8,928.5 C1166.9,928.7 1165.2,929.8 1162.3,930.9 C1159.4,932 1156,935 1152.5,935.3 C1149,935.6 1145,933.8 1141.5,932.7 C1138,931.6 1135,928.6 1131.8,928.5 C1128.5,928.4 1125.3,930.8 1122,932.2 C1118.7,933.6 1115.7,936.8 1112.2,937.1 C1108.7,937.4 1104.7,935 1101.2,933.9 C1097.7,932.8 1094.9,930.2 1091.4,930.2 C1087.9,930.2 1083.9,932.5 1080.4,933.9 C1076.9,935.2 1073.9,938.2 1070.6,938.3 C1067.3,938.4 1064.1,935.9 1060.8,934.6 C1057.5,933.3 1054.5,930.6 1051,930.5 C1047.5,930.4 1043.5,932.5 1040,933.9 C1036.5,935.3 1033.5,938.3 1030.2,938.8 C1027,939.3 1024,938.1 1020.5,937.1 C1017,936.1 1012.9,932.9 1009.4,932.7 C1005.9,932.5 1003,934.3 999.7,935.8 C996.5,937.3 993.2,940.9 989.9,941.5 C986.6,942.1 983.4,940.6 980.1,939.5 C976.8,938.4 973.8,935.2 970.3,935.1 C966.8,935 962.8,937.1 959.3,938.8 C955.8,940.5 952.8,944.4 949.5,945.1 C946.2,945.8 943,944.2 939.7,943.2 C936.4,942.2 933.1,938.8 929.9,938.8 C926.6,938.8 923.5,941.2 920.2,943.2 C917,945.2 913.9,949.7 910.4,950.5 C906.9,951.3 902.9,949.1 899.4,948.1 C895.9,947.1 893.1,944.2 889.6,944.4 C886.1,944.6 882.5,947.3 878.6,949.3 C874.7,951.3 870,955.7 866.3,956.6 C862.6,957.5 859.9,955.6 856.6,954.9 C853.4,954.2 850.3,951.7 846.8,952.2 C843.3,952.7 839.3,955.6 835.8,957.8 C832.3,960 829.5,964.4 826,965.2 C822.5,966 818.5,963.6 815,962.7 C811.5,961.8 808.5,959.2 805.2,959.8 C801.9,960.4 798.7,964.1 795.4,966.4 C792.1,968.7 788.9,972.9 785.6,973.7 C782.3,974.5 778.8,972.1 775.8,971.3 C772.8,970.5 770.5,968.3 767.3,968.9 C764,969.5 759.8,972.6 756.3,975 C752.8,977.4 749.8,982.3 746.5,983.5 C743.2,984.7 739.8,983.1 736.7,982.3 C733.6,981.5 731,978.6 728.1,978.6 C725.2,978.6 722.7,980 719.6,982.3 C716.5,984.5 712.3,990.1 709.8,992.1 C707.3,994.1 708.1,994.5 704.8,994.2 C701.5,993.9 694.2,990.9 690.1,990.5 C686,990.1 684,989.7 680.3,991.7 C676.6,993.7 672.2,1000.7 668.1,1002.7 C664,1004.8 660,1004.4 655.9,1004 C651.8,1003.6 647.3,999.9 643.6,1000.3 C639.9,1000.7 637,1004 633.8,1006.4 C630.5,1008.8 627.8,1013.9 624.1,1014.5 C620.4,1015.1 615.9,1011.3 611.8,1010.1 C607.7,1008.9 604.5,1006.7 599.6,1007.1 C594.7,1007.5 587.8,1010.8 582.5,1012.5 C577.2,1014.2 571.9,1015.4 567.8,1017.4 C563.7,1019.4 561.7,1021.3 558,1024.8 C554.3,1028.3 549.9,1035.8 545.8,1038.2 C541.7,1040.6 537.6,1040.2 533.5,1039.4 C529.4,1038.6 525.4,1035.3 521.3,1033.3 C517.2,1031.3 512.8,1027.6 509.1,1027.2 C505.4,1026.8 503,1027.6 499.3,1030.9 C495.6,1034.2 491.2,1042.1 487.1,1046.8 C483,1051.5 480.5,1054.9 474.8,1059 C469.1,1063.1 458.1,1068.4 452.8,1071.2 C447.5,1074 446.3,1076.3 443,1076.1 C439.7,1075.9 436.9,1071.4 433.2,1070 C429.5,1068.6 424.7,1066.6 421,1067.6 C417.3,1068.6 414.9,1071 411.2,1076.1 C407.5,1081.2 403.1,1092.6 399,1098.1 C394.9,1103.6 391.3,1106.2 386.8,1109.1 C382.3,1112 376.2,1113.7 372.1,1115.3 C368,1116.9 365.6,1115.7 362.3,1118.9 C359,1122.2 355.8,1128.1 352.5,1134.8 C349.2,1141.5 345.9,1151.9 342.7,1159.3 C339.4,1166.7 336.2,1173.2 333,1178.9 C329.8,1184.6 325.6,1188.9 323.2,1193.5 C320.8,1198.1 320,1201.3 318.4,1206.6 C316.8,1211.9 315.2,1219 313.7,1225.2 C312.1,1231.4 310.4,1237.1 309.1,1243.7 C307.8,1250.3 306.8,1257.9 305.7,1265 C304.6,1272.1 303.6,1279.1 302.4,1286.2 C301.2,1293.3 299.6,1299.8 298.4,1307.5 C297.2,1315.2 296.1,1323 295.1,1332.7 C294.1,1342.4 293.5,1355.9 292.5,1365.9 C291.5,1375.9 290.1,1383.5 289.1,1392.5 C288.1,1401.5 287.6,1407.6 286.5,1420 C285.4,1432.4 283.6,1449.2 282.2,1466.8 C280.8,1484.4 279,1508.4 277.8,1525.5 C276.6,1542.6 275.9,1553.8 274.9,1569.5 C273.9,1585.2 273.1,1601.6 272,1620 C270.9,1638.4 269.7,1660 268.5,1680 C267.3,1700 266.1,1720 265,1740 C263.9,1760 262.9,1773.5 262,1800 C261.1,1826.5 259.9,1882.5 259.5,1899" fill="none" stroke="#3B65AE" stroke-width="4.2" stroke-linejoin="round" stroke-linecap="round"/>
</g>
<g id="g2">
<path d="M259,1899 C259,1882.5 259.1,1827.5 259.2,1800 C259.3,1772.5 259.4,1759 259.6,1734 C259.8,1709 260.2,1675 260.6,1650 C261,1625 261.5,1617.3 262.2,1584 C262.9,1550.7 264.2,1490.7 264.8,1450 C265.4,1409.3 265.3,1398.3 266,1340 C266.7,1281.7 267.7,1170 268.8,1100 C269.9,1030 272,958.2 272.8,920 C273.6,881.8 273.3,891.3 273.8,871 C274.3,850.7 275.1,822.4 275.8,798 C276.5,773.6 277.2,749.1 277.8,724.6 C278.4,700.1 279,673.4 279.6,651 C280.2,628.6 280.3,607.1 281.4,590 C282.5,572.9 284.2,563.2 286.3,548.5 C288.4,533.8 290.7,526.3 294,502 C297.3,477.7 302.4,433.4 306,402.5 C309.6,371.6 313,343.3 315.8,316.8 C318.6,290.3 320.6,261 322.7,243.5 C324.8,226 326,220.3 328.1,211.7 C330.2,203.1 332.1,196.2 335.4,192.1 C338.6,188 343.9,191.3 347.6,187.2 C351.3,183.1 354.1,174.9 357.4,167.6 C360.7,160.3 363.9,147.9 367.2,143.2 C370.5,138.5 373.7,139.9 377,139.5 C380.3,139.1 383.1,138.9 386.8,140.7 C390.5,142.5 395.1,147 399,150.5 C402.9,154 406.3,162.7 410,161.5 C413.7,160.3 417.3,148.1 421,143.2 C424.7,138.3 428.7,133.2 432,132.2 C435.3,131.2 437.1,132 440.6,137.1 C444.1,142.2 448.7,157 452.8,162.7 C456.9,168.4 461.3,170.5 465,171.3 C468.7,172.1 471.1,170.4 474.8,167.6 C478.5,164.8 483.8,156.7 487.1,154.2 C490.4,151.7 491.1,151.9 494.4,152.5 C497.6,153.1 501.3,156.7 506.6,157.8 C511.9,158.9 521.3,157.9 526.2,159.1 C531.1,160.3 531.9,160.3 536,165.2 C540.1,170.1 547,183.9 550.7,188.4 C554.4,192.9 553.9,192.7 558,192.1 C562.1,191.5 569.4,186.6 575.1,184.8 C580.8,183 586.8,183.1 592.3,181.1 C597.8,179.1 604.1,173.6 608.2,173 C612.3,172.4 612.8,173.6 616.7,177.4 C620.6,181.2 626.5,194.2 631.4,195.8 C636.3,197.4 642,188.2 646.1,187.2 C650.2,186.2 651.4,186.3 655.9,189.6 C660.4,192.9 668.5,203.9 673,206.8 C677.5,209.7 678.7,209.9 682.8,206.8 C686.9,203.7 692.9,192.7 697.4,188.4 C701.9,184.1 706.1,181.1 709.8,181.1 C713.5,181.1 715.9,185.1 719.6,188.4 C723.3,191.7 727.7,200.1 731.8,200.7 C735.9,201.3 740.1,194.3 744,192.1 C747.9,189.8 751.3,186.9 755,187.2 C758.7,187.5 760.9,189.4 766,194.1 C771.1,198.8 780.7,211.6 785.6,215.3 C790.5,219.1 791.7,218.4 795.4,216.6 C799.1,214.8 804.3,206.8 807.6,204.3 C810.9,201.8 812.1,200.6 815,201.4 C817.9,202.2 821.8,207.1 824.8,209.2 C827.8,211.3 829.6,215.1 833.3,214.1 C837,213.1 842.5,205.8 846.8,203.1 C851.1,200.4 855.3,198.2 859,198.2 C862.7,198.2 864.3,199.4 868.8,203.1 C873.3,206.8 881.4,217.3 885.9,220.2 C890.4,223 891.6,221.8 895.7,220.2 C899.8,218.6 906.3,213 910.4,210.4 C914.5,207.8 917,204.2 920.2,204.8 C923.5,205.4 927,212.3 929.9,214.1 C932.8,215.8 934,217.8 937.3,215.3 C940.6,212.9 946,202.9 949.5,199.4 C953,195.9 954.8,194.1 958.1,194.5 C961.4,194.9 964.4,197.8 969.1,201.9 C973.8,206 982.1,216.1 986.2,219 C990.3,221.9 989.4,221.9 993.5,219.5 C997.6,217.1 1006,207.5 1010.7,204.3 C1015.4,201.1 1018,199.8 1021.7,200.2 C1025.4,200.6 1028.4,203.5 1032.7,206.8 C1037,210.1 1043.3,217.8 1047.4,220.2 C1051.5,222.6 1053,223.2 1057.1,221.4 C1061.2,219.6 1067.9,211.6 1071.8,209.2 C1075.7,206.8 1077.1,206.2 1080.4,206.8 C1083.7,207.4 1085.9,209.4 1091.4,212.9 C1096.9,216.4 1106.9,223.1 1113.4,227.6 C1119.9,232.1 1126.4,237.8 1130.5,239.8 C1134.6,241.8 1134.2,242.2 1137.9,239.8 C1141.6,237.4 1148.4,228.4 1152.5,225.1 C1156.6,221.8 1159,220 1162.3,220.2 C1165.6,220.4 1167.6,222.8 1172.1,226.3 C1176.6,229.8 1184.3,240 1189.2,241 C1194.1,242 1198.3,235.3 1201.6,232.5 C1204.9,229.7 1206.5,226 1208.9,223.9 C1211.4,221.8 1213.2,220.6 1216.3,220.2 C1219.4,219.8 1224,219.6 1227.3,221.4 C1230.5,223.2 1232.9,225.5 1235.8,231.2 C1238.7,236.9 1242,245.5 1244.4,255.7 C1246.9,265.9 1248.5,276.1 1250.5,292.4 C1252.5,308.7 1254.6,333.1 1256.6,353.5 C1258.6,373.9 1260.3,394.2 1262.7,414.7 C1265.1,435.2 1269,458.2 1271.2,476.7 C1273.4,495.2 1274.3,510.1 1276.1,525.6 C1277.9,541.1 1280,555.7 1282.2,569.6 C1284.4,583.5 1286.7,598.2 1289.5,608.8 C1292.3,619.4 1295.6,625.9 1299.3,633.2 C1303,640.5 1307,647.7 1311.5,652.8 C1316,657.9 1321.3,660.7 1326.2,663.8 C1331.1,666.9 1336,669 1340.9,671.2 C1345.8,673.5 1351.1,675.9 1355.6,677.3 C1360.1,678.7 1363.3,679.9 1367.8,679.7 C1372.3,679.5 1377.6,677.5 1382.5,676.1 C1387.4,674.7 1392.2,672 1397.1,671.2 C1402,670.4 1406.9,671 1411.8,671.2 C1416.7,671.4 1422,673.4 1426.5,672.4 C1431,671.4 1434.2,667.6 1438.7,665 C1443.2,662.4 1448.9,658.1 1453.4,656.5 C1457.9,654.9 1461.1,655.7 1465.6,655.3 C1470.1,654.9 1475.8,655.4 1480.3,654 C1484.8,652.6 1488.8,648.1 1492.5,646.7 C1496.2,645.3 1499,644.9 1502.3,645.5 C1505.6,646.1 1508.5,648.7 1512.2,650.1 C1515.9,651.5 1520.4,653.5 1524.5,653.7 C1528.6,653.9 1532.6,652.9 1536.7,651.3 C1540.8,649.7 1544.8,646 1548.9,644 C1553,642 1557.5,639.3 1561.2,639.1 C1564.9,638.9 1567.2,641.7 1570.9,642.7 C1574.6,643.7 1579.5,645.2 1583.2,645.2 C1586.9,645.2 1588.9,642.9 1593,642.7 C1597.1,642.5 1603.1,643.2 1607.6,644 C1612.1,644.8 1616.2,647.2 1619.9,647.6 C1623.6,648 1626.3,646.8 1629.6,646.4 C1632.8,646 1635.7,644.2 1639.4,645.2 C1643.1,646.2 1647.6,650.5 1651.7,652.5 C1655.8,654.5 1659.4,656.4 1663.9,657.4 C1668.4,658.4 1673.7,657 1678.6,658.6 C1683.5,660.2 1688.3,664.8 1693.2,667.2 C1698.1,669.7 1703.4,672.1 1707.9,673.3 C1712.4,674.5 1715.7,672.7 1720.2,674.5 C1724.7,676.3 1730.3,682.2 1734.8,684.3 C1739.3,686.3 1743,686.2 1747.1,686.8 C1751.2,687.4 1754.8,686.6 1759.3,688 C1763.8,689.4 1769.1,691.8 1774,695.3 C1778.9,698.8 1783.7,704.9 1788.6,708.8 C1793.5,712.7 1798.4,716.1 1803.3,718.6 C1808.2,721.1 1813.1,721.1 1818,723.5 C1822.9,725.9 1827.8,729.3 1832.7,733.2 C1837.6,737.1 1842.5,743.6 1847.4,746.7 C1852.3,749.8 1857.1,749.2 1862,751.6 C1866.9,754 1871.8,757.5 1876.7,761.4 C1881.6,765.3 1886.5,770.5 1891.4,774.8 C1896.3,779.1 1901.2,783.8 1906.1,787.1 C1911,790.4 1915.8,791.4 1920.7,794.4 C1925.6,797.4 1931.1,800.4 1935.4,805.4 C1939.7,810.4 1940.6,817.6 1946.5,824.5 C1952.4,831.4 1963.6,840 1970.9,846.5 C1978.2,853 1984,857.7 1990.5,863.6 C1997,869.5 2002.8,875 2010.1,881.9 C2017.4,888.8 2026.3,897.3 2034.5,905.2 C2042.7,913.1 2050.8,920.9 2059,929.2 C2067.2,937.5 2075.2,946.2 2083.4,955.2 C2091.6,964.1 2099.7,973.6 2107.9,982.9 C2116.1,992.3 2124.2,1001.9 2132.4,1011.5 C2140.6,1021 2148.7,1030.7 2156.8,1040.2 C2165,1049.7 2173.1,1059.4 2181.3,1068.5 C2189.5,1077.7 2197.7,1086.5 2205.8,1095 C2214,1103.5 2222,1111.4 2230.2,1119.5 C2238.3,1127.7 2247.3,1136.5 2254.7,1144 C2262,1151.5 2269.2,1159.4 2274.3,1164.5 C2279.4,1169.6 2283.5,1172.7 2285.3,1174.3" fill="none" stroke="#629A3C" stroke-width="4.2" stroke-linejoin="round" stroke-linecap="round"/>
<path d="M2285.3,1174.3 L2288.3,1178 L2288.6,1010 L2288.6,1345 L2285,1320 L2281.6,1316.1" fill="none" stroke="#629A3C" stroke-width="4.2" stroke-linejoin="round" stroke-linecap="butt"/>
<path d="M2281.6,1316.1 C2280.8,1320.2 2278.7,1332.4 2276.7,1340.6 C2274.7,1348.8 2272.2,1356.8 2269.4,1365 C2266.6,1373.2 2263.3,1381.8 2259.6,1389.5 C2255.9,1397.2 2251.4,1404.7 2247.3,1411.4 C2243.2,1418.1 2239.6,1423.8 2235.1,1429.6 C2230.6,1435.4 2225.7,1441.1 2220.4,1446.3 C2215.1,1451.5 2209,1456.6 2203.3,1460.8 C2197.6,1465 2192.3,1468.3 2186.2,1471.4 C2180.1,1474.5 2173.9,1477 2166.6,1479.4 C2159.3,1481.8 2150.3,1484 2142.2,1485.7 C2134,1487.3 2125.9,1488.5 2117.7,1489.3 C2109.5,1490.2 2101.3,1490.7 2093.2,1491 C2085,1491.3 2077,1491.3 2068.8,1491.1 C2060.7,1490.8 2052.5,1490.3 2044.3,1489.6 C2036.1,1488.8 2027.9,1487.8 2019.8,1486.5 C2011.7,1485.3 2002.3,1483.5 1995.4,1482 C1988.5,1480.6 1985.2,1479.8 1978.3,1477.8 C1971.4,1475.9 1961.9,1473.1 1953.8,1470.5 C1945.7,1467.8 1937.6,1465 1929.4,1461.9 C1921.2,1458.8 1913.1,1455.6 1904.9,1452.1 C1896.8,1448.6 1888.7,1445 1880.5,1441.1 C1872.3,1437.2 1864.2,1433.2 1856,1428.8 C1847.8,1424.5 1839.7,1419.9 1831.5,1415 C1823.3,1410.1 1815.2,1404.9 1807.1,1399.5 C1798.9,1394.1 1790.8,1388.3 1782.6,1382.3 C1774.4,1376.4 1766.2,1370.1 1758.1,1363.6 C1749.9,1357.1 1741.8,1350.3 1733.7,1343.3 C1725.6,1336.3 1717.4,1329.1 1709.2,1321.7 C1701,1314.3 1693,1306.9 1684.8,1299 C1676.6,1291.2 1669.5,1283.9 1660.3,1274.5 C1651.1,1265.1 1638.1,1251.1 1629.7,1242.6 C1621.3,1234.1 1616.6,1229.6 1610.1,1223.5 C1603.6,1217.5 1597,1211.9 1590.5,1206.1 C1584,1200.3 1577.5,1194.5 1571,1188.6 C1564.5,1182.6 1557.9,1176.6 1551.4,1170.5 C1544.9,1164.4 1538.3,1158.5 1531.8,1152.2 C1525.3,1145.9 1518.8,1139.6 1512.3,1132.7 C1505.8,1125.9 1499.2,1118.4 1492.7,1111.1 C1486.2,1103.8 1479.6,1096.1 1473.1,1088.9 C1466.6,1081.7 1460,1074.6 1453.5,1068 C1447,1061.4 1440.5,1055.4 1434,1049.5 C1427.5,1043.6 1420.9,1038.1 1414.4,1032.7 C1407.9,1027.3 1401.3,1022.1 1394.8,1017.1 C1388.3,1012.1 1381.8,1007.2 1375.3,1002.5 C1368.8,997.9 1362.2,993.3 1355.7,989 C1349.2,984.7 1342.6,980.6 1336.1,976.7 C1329.6,972.8 1323.1,969 1316.6,965.4 C1310.1,961.9 1303.5,958.4 1297,955.3 C1290.5,952.3 1283.9,949.6 1277.4,947.1 C1270.9,944.7 1264.3,942 1257.8,940.7 C1251.3,939.4 1244.4,939.4 1238.3,939.5 C1232.2,939.6 1226.1,940 1221.2,941.2 C1216.3,942.4 1213,944.6 1208.9,946.8 C1204.8,949 1201.2,953.4 1196.7,954.2 C1192.2,955 1186.5,952.5 1182,951.7 C1177.5,950.9 1173.1,948.9 1169.8,949.3 C1166.5,949.7 1165.2,952.8 1162.3,954.2 C1159.4,955.6 1155.8,957.6 1152.5,957.8 C1149.2,958 1146,956.4 1142.8,955.4 C1139.5,954.4 1136.3,951.5 1133,951.7 C1129.7,951.9 1126.5,955.2 1123.2,956.6 C1119.9,958 1116.7,960.1 1113.4,960.3 C1110.1,960.5 1106.9,958.9 1103.6,957.8 C1100.3,956.7 1097.5,953.9 1093.8,953.7 C1090.1,953.5 1085.3,955.5 1081.6,956.6 C1077.9,957.7 1075.1,959.8 1071.8,960.3 C1068.5,960.8 1064.8,960.2 1062,959.8 C1059.2,959.4 1058,957.9 1054.7,957.8 C1051.5,957.7 1046.6,958.5 1042.5,959.1 C1038.4,959.7 1033.9,961.3 1030.2,961.5 C1026.5,961.7 1024,960.9 1020.5,960.3 C1017,959.7 1013.1,957.8 1009.4,957.8 C1005.7,957.8 1001.9,959.1 998.4,960.3 C994.9,961.5 991.9,964.8 988.6,965.2 C985.4,965.6 982.1,963.9 978.9,962.7 C975.6,961.5 972.8,957.8 969.1,957.8 C965.4,957.8 960.5,961.1 956.8,962.7 C953.1,964.3 950.8,967.4 947.1,967.6 C943.4,967.8 938.5,964.2 934.8,964 C931.1,963.8 928.7,965 925,966.4 C921.3,967.8 916.5,971.9 912.8,972.5 C909.1,973.1 906.3,970.9 903,970.1 C899.7,969.3 896.9,967 893.2,967.6 C889.5,968.2 885.1,971.7 881,973.7 C876.9,975.7 872.9,978.6 868.8,979.4 C864.7,980.2 860.3,979 856.6,978.6 C852.9,978.2 850.1,976.5 846.8,976.9 C843.5,977.3 840.3,979.4 837,981.1 C833.7,982.8 830.5,986.3 827.2,987.2 C823.9,988.1 820.7,987.1 817.4,986.7 C814.1,986.3 810.9,984.5 807.6,984.8 C804.3,985.1 801.5,986.4 797.8,988.4 C794.1,990.4 789.7,995.4 785.6,997 C781.5,998.6 777.5,998 773.4,998.2 C769.3,998.4 766.1,997 761.2,998.2 C756.3,999.4 750.1,1004.1 744,1005.5 C737.9,1006.9 730.2,1005.6 724.5,1006.8 C718.8,1008 713.1,1011.5 709.8,1012.9 C706.5,1014.3 708.1,1015.1 704.8,1015 C701.5,1014.9 694.6,1012.1 690.1,1012.5 C685.6,1012.9 682,1014.8 677.9,1017.4 C673.8,1020 669.3,1026.6 665.6,1028.4 C661.9,1030.2 659.1,1029 655.9,1028.4 C652.6,1027.8 649.4,1024.6 646.1,1024.8 C642.8,1025 639.6,1027.2 636.3,1029.6 C633,1032 630.2,1038.2 626.5,1039.4 C622.8,1040.6 618.4,1037.5 614.3,1036.5 C610.2,1035.5 606.5,1033.5 602,1033.3 C597.5,1033 592.3,1033.6 587.4,1035 C582.5,1036.4 577.6,1039.1 572.7,1041.9 C567.8,1044.7 562.5,1048.2 558,1051.7 C553.5,1055.2 549.9,1060.6 545.8,1062.7 C541.7,1064.8 538,1065 533.5,1064.4 C529,1063.8 523.4,1060.7 518.9,1059 C514.4,1057.3 510.7,1054.1 506.6,1054.1 C502.5,1054.1 498.5,1055.7 494.4,1059 C490.3,1062.3 486.7,1069.2 482.2,1073.7 C477.7,1078.2 472.4,1082.2 467.5,1085.9 C462.6,1089.6 456.9,1093.7 452.8,1095.7 C448.7,1097.7 446.3,1098.5 443,1098.1 C439.7,1097.7 436.9,1093.2 433.2,1093.2 C429.5,1093.2 425.5,1094.4 421,1098.1 C416.5,1101.8 411.2,1110 406.3,1115.3 C401.4,1120.6 396.6,1126.7 391.7,1129.9 C386.8,1133.2 381.9,1130.7 377,1134.8 C372.1,1138.9 366.8,1148.3 362.3,1154.4 C357.8,1160.5 354.2,1165 350.1,1171.5 C346,1178 341,1187.6 337.8,1193.5 C334.6,1199.4 333.3,1201.8 331,1207 C328.7,1212.2 326.3,1218.9 324,1225 C321.7,1231.1 319.2,1236.2 317,1243.7 C314.8,1251.2 312.9,1261.5 311,1270 C309.1,1278.5 307.2,1286.8 305.5,1295 C303.8,1303.2 302.3,1310.2 301,1319.4 C299.7,1328.6 298.5,1339.9 297.5,1350 C296.5,1360.1 295.8,1369.2 295,1380 C294.2,1390.8 293.2,1403 292.5,1415 C291.8,1427 291.6,1440.9 290.5,1452 C289.4,1463.1 287.2,1469.2 286,1481.5 C284.8,1493.8 284.3,1508.4 283,1525.5 C281.7,1542.6 279.5,1568.2 278,1584 C276.5,1599.8 275.4,1604 274,1620 C272.6,1636 270.9,1660 269.5,1680 C268.1,1700 266.8,1720 265.5,1740 C264.2,1760 263.1,1773.5 262,1800 C260.9,1826.5 259.7,1882.5 259.2,1899" fill="none" stroke="#629A3C" stroke-width="4.2" stroke-linejoin="round" stroke-linecap="round"/>
</g>
<g id="g3">
<path d="M258.7,1899 C258.7,1882.5 258.6,1827.5 258.7,1800 C258.8,1772.5 258.8,1759 259,1734 C259.2,1709 259.6,1675 260,1650 C260.4,1625 260.9,1617.3 261.6,1584 C262.3,1550.7 263.7,1490.7 264.3,1450 C264.9,1409.3 264.7,1398.3 265.3,1340 C265.9,1281.7 266.9,1170 268,1100 C269.1,1030 271.2,958.2 272,920 C272.8,881.8 272.5,891.3 273,871 C273.5,850.7 274.3,822.4 275,798 C275.7,773.6 276.4,749.1 277,724.6 C277.6,700.1 278.2,673.4 278.8,651 C279.4,628.6 279.5,607.1 280.6,590 C281.7,572.9 283.3,563.2 285.3,548.5 C287.3,533.8 289.8,526.3 292.6,502 C295.5,477.7 298.9,433.4 302.4,402.5 C305.9,371.6 310.3,343.3 313.4,316.8 C316.4,290.3 318.7,261 320.7,243.5 C322.7,226 323.8,221.1 325.6,211.7 C327.4,202.3 329.7,192.5 331.7,187.2 C333.7,181.9 335.1,181.9 337.8,179.9 C340.5,177.9 344.7,177.4 347.6,175 C350.5,172.6 352.6,170.9 355,165.2 C357.4,159.5 359.9,146.6 362.3,140.7 C364.7,134.8 365.9,131.9 369.6,129.7 C373.3,127.5 380.6,127.1 384.3,127.3 C388,127.5 387.6,127.4 391.7,130.9 C395.8,134.4 404.3,148.1 408.8,148.1 C413.3,148.1 414.7,136 418.6,130.9 C422.5,125.8 428.3,118.7 432,117.5 C435.7,116.3 437.1,118.5 440.6,123.6 C444.1,128.7 448.3,142.2 452.8,148.1 C457.3,154 463.8,157.9 467.5,159.1 C471.2,160.3 471.5,158.5 474.8,155.4 C478.1,152.3 483.8,143.5 487.1,140.7 C490.4,137.8 491.1,137.7 494.4,138.3 C497.6,138.9 501.3,143.4 506.6,144.4 C511.9,145.4 521.3,143.2 526.2,144.4 C531.1,145.6 531.9,146.6 536,151.7 C540.1,156.8 547,170.5 550.7,175 C554.4,179.5 553.9,179.2 558,178.6 C562.1,178 569.4,173.1 575.1,171.3 C580.8,169.5 586.8,169.7 592.3,167.6 C597.8,165.5 604.1,159.4 608.2,158.6 C612.3,157.8 612.8,158.9 616.7,162.7 C620.6,166.4 626.5,179.5 631.4,181.1 C636.3,182.7 642,173.5 646.1,172.5 C650.2,171.5 651.4,171.7 655.9,175 C660.4,178.3 668.5,189.2 673,192.1 C677.5,194.9 678.7,195.2 682.8,192.1 C686.9,189 692.9,178.2 697.4,173.7 C701.9,169.2 706.1,165.4 709.8,165.2 C713.5,165 715.9,169.2 719.6,172.5 C723.3,175.8 727.7,184.4 731.8,184.8 C735.9,185.2 740.1,177.4 744,175 C747.9,172.6 751.3,169.7 755,170.1 C758.7,170.5 760.9,172.7 766,177.4 C771.1,182.1 780.7,194.5 785.6,198.2 C790.5,201.9 791.7,201.2 795.4,199.4 C799.1,197.6 804.3,189.7 807.6,187.2 C810.9,184.7 812.1,183.5 815,184.3 C817.9,185.1 821.8,189.8 824.8,192.1 C827.8,194.4 829.6,199 833.3,198.2 C837,197.4 842.5,190 846.8,187.2 C851.1,184.4 855.3,181.8 859,181.6 C862.7,181.4 864.3,182.4 868.8,186 C873.3,189.6 881.4,200.2 885.9,203.1 C890.4,205.9 891.6,204.7 895.7,203.1 C899.8,201.5 906.3,196 910.4,193.3 C914.5,190.7 917,186.4 920.2,187.2 C923.5,188 927,196.2 929.9,198.2 C932.8,200.2 934,202.1 937.3,199.4 C940.6,196.8 946,186.2 949.5,182.3 C953,178.4 954.8,176 958.1,176.2 C961.4,176.4 964.4,179.4 969.1,183.5 C973.8,187.6 982.1,197.7 986.2,200.7 C990.3,203.7 989.4,204.1 993.5,201.4 C997.6,198.8 1006,188.4 1010.7,184.8 C1015.4,181.2 1018,179.7 1021.7,179.9 C1025.4,180.1 1028.4,182.7 1032.7,186 C1037,189.3 1043.3,197.5 1047.4,199.9 C1051.5,202.3 1053,203.2 1057.1,200.7 C1061.2,198.2 1067.9,188 1071.8,184.8 C1075.7,181.6 1077.1,181 1080.4,181.6 C1083.7,182.2 1085.9,185 1091.4,188.4 C1096.9,191.8 1106.9,197.6 1113.4,201.9 C1119.9,206.2 1126.4,212 1130.5,214.1 C1134.6,216.2 1134.2,217 1137.9,214.6 C1141.6,212.2 1148.4,202.7 1152.5,199.4 C1156.6,196.1 1159,194.6 1162.3,195 C1165.6,195.4 1167.6,198.3 1172.1,201.9 C1176.6,205.5 1183.9,215 1189.2,216.6 C1194.5,218.2 1200.1,214.8 1204,211.7 C1207.9,208.6 1208.5,200.4 1212.6,198.2 C1216.7,195.9 1223.4,195.9 1228.5,198.2 C1233.6,200.4 1238.9,208.6 1243.2,211.7 C1247.5,214.8 1251.2,216.2 1254.2,216.6 C1257.2,217 1258.8,216.5 1261.5,214.1 C1264.2,211.7 1266.2,205.6 1270.1,201.9 C1274,198.2 1280.3,191.9 1284.8,192.1 C1289.3,192.3 1293.3,199 1297,203.1 C1300.7,207.2 1304,210.3 1306.8,216.6 C1309.6,222.9 1311.9,228.8 1314.1,241 C1316.3,253.2 1318.2,269.1 1320.2,289.9 C1322.2,310.7 1324.7,340.9 1326.3,365.8 C1327.9,390.7 1328.8,418.7 1330,439.2 C1331.2,459.7 1332.1,472.5 1333.5,488.9 C1334.9,505.3 1336.8,521.5 1338.4,537.8 C1340,554.1 1341.7,572.1 1343.3,586.8 C1344.9,601.5 1346.2,613.7 1348.2,625.9 C1350.2,638.1 1352.8,650.4 1355.6,660.2 C1358.4,670 1361.6,678.3 1365.3,684.6 C1369,690.9 1373.1,694.9 1377.6,698.1 C1382.1,701.3 1387.4,702.3 1392.3,703.7 C1397.2,705.1 1402,705.5 1406.9,706.6 C1411.8,707.7 1417.5,710.1 1421.6,710.3 C1425.7,710.5 1427.3,709.9 1431.4,707.9 C1435.5,705.9 1441.2,701.2 1446.1,698.1 C1451,695 1455.8,691.1 1460.7,689.5 C1465.6,687.9 1470.9,689.7 1475.4,688.3 C1479.9,686.9 1484,683.1 1487.7,680.9 C1491.4,678.6 1493.3,675.2 1497.4,674.8 C1501.5,674.3 1507.7,677.4 1512.2,678.2 C1516.7,679 1520.4,679.8 1524.5,679.4 C1528.6,679 1532.6,678 1536.7,675.8 C1540.8,673.6 1544.8,669.1 1548.9,666 C1553,662.9 1557.5,658.2 1561.2,657.4 C1564.9,656.6 1567.2,660.7 1570.9,661.1 C1574.6,661.5 1579.1,661.1 1583.2,659.9 C1587.3,658.7 1591.3,654.5 1595.4,653.7 C1599.5,652.9 1603.5,654 1607.6,655 C1611.7,656 1616.2,659.5 1619.9,659.9 C1623.6,660.3 1626.3,658.4 1629.6,657.4 C1632.8,656.4 1635.7,653.3 1639.4,653.7 C1643.1,654.1 1648,658 1651.7,659.9 C1655.4,661.8 1656.5,664.4 1661.4,664.8 C1666.3,665.2 1675.7,661.5 1681,662.3 C1686.3,663.1 1688.7,667.8 1693.2,669.6 C1697.7,671.4 1702.6,672.1 1707.9,673.3 C1713.2,674.5 1719.7,675.2 1725,677 C1730.3,678.8 1734.4,682.9 1739.7,684.3 C1745,685.7 1751.5,684.7 1756.8,685.5 C1762.1,686.3 1766.6,686.6 1771.5,689.2 C1776.4,691.9 1781.3,697.1 1786.2,701.4 C1791.1,705.7 1795.6,711.6 1800.9,714.9 C1806.2,718.2 1812.7,718.5 1818,721 C1823.3,723.5 1827.8,726.1 1832.7,729.6 C1837.6,733.1 1842.5,738.9 1847.4,741.8 C1852.3,744.6 1857.1,744.2 1862,746.7 C1866.9,749.2 1871.8,752.6 1876.7,756.5 C1881.6,760.4 1886.5,765.6 1891.4,769.9 C1896.3,774.2 1900.8,778.9 1906.1,782.2 C1911.4,785.5 1918.3,786.6 1923.2,789.5 C1928.1,792.4 1930.7,793.9 1935.4,799.3 C1940.1,804.7 1945.5,815.8 1951.4,822 C1957.3,828.2 1965.2,832.4 1970.9,836.7 C1976.6,841 1979.9,843.2 1985.6,847.8 C1991.3,852.5 1997.9,858.2 2005.2,864.8 C2012.5,871.4 2021.4,879.7 2029.6,887.3 C2037.8,894.9 2045.9,902.4 2054.1,910.5 C2062.3,918.5 2070.4,926.9 2078.6,935.7 C2086.8,944.4 2094.8,953.7 2103,962.9 C2111.2,972.2 2119.3,981.7 2127.5,991.1 C2135.7,1000.4 2143.8,1009.7 2151.9,1019.1 C2160.1,1028.6 2168.2,1038.2 2176.4,1047.8 C2184.6,1057.5 2192.8,1067.3 2200.9,1077 C2209.1,1086.7 2217.2,1096.3 2225.3,1106 C2233.5,1115.6 2241.6,1125.2 2249.8,1134.7 C2258,1144.3 2268.8,1158.1 2274.3,1163.3 C2279.8,1168.5 2280.8,1163.9 2282.8,1165.7 C2284.8,1167.5 2285.9,1172.9 2286.5,1174.3" fill="none" stroke="#7030A0" stroke-width="4.2" stroke-linejoin="round" stroke-linecap="round"/>
<path d="M2286.5,1174.3 L2288.8,1178 L2288.8,993.5 L2288.8,1364 L2286.5,1338 L2282.8,1335.7" fill="none" stroke="#7030A0" stroke-width="5.6" stroke-linejoin="round" stroke-linecap="butt"/>
<path d="M2282.8,1335.7 C2281.8,1338.2 2278.9,1344.3 2276.7,1350.4 C2274.5,1356.5 2272.2,1364.7 2269.4,1372.4 C2266.6,1380.1 2263.3,1389.1 2259.6,1396.8 C2255.9,1404.5 2251.4,1412 2247.3,1418.8 C2243.2,1425.5 2239.6,1431.4 2235.1,1437.3 C2230.6,1443.2 2225.7,1449.1 2220.4,1454.5 C2215.1,1459.9 2209,1465.2 2203.3,1469.6 C2197.6,1473.9 2192.3,1477.3 2186.2,1480.6 C2180.1,1483.9 2173.9,1486.7 2166.6,1489.3 C2159.3,1491.9 2150.3,1494.5 2142.2,1496.4 C2134,1498.3 2125.9,1499.7 2117.7,1500.7 C2109.5,1501.8 2101.3,1502.4 2093.2,1502.8 C2085,1503.2 2077,1503.3 2068.8,1503.1 C2060.7,1503 2052.5,1502.6 2044.3,1502 C2036.1,1501.3 2027.9,1500.4 2019.8,1499.2 C2011.7,1497.9 2003.1,1496.3 1995.4,1494.5 C1987.7,1492.7 1981.2,1490.8 1973.4,1488.5 C1965.7,1486.2 1957.1,1483.3 1948.9,1480.5 C1940.8,1477.7 1932.7,1474.8 1924.5,1471.7 C1916.3,1468.6 1908.2,1465.4 1900,1461.9 C1891.8,1458.4 1883.8,1454.8 1875.6,1450.8 C1867.4,1446.9 1859.3,1442.7 1851.1,1438.2 C1842.9,1433.7 1834.8,1428.9 1826.6,1423.8 C1818.4,1418.7 1810.3,1413.4 1802.2,1407.7 C1794.1,1402 1785.9,1395.9 1777.7,1389.6 C1769.5,1383.3 1761.4,1376.6 1753.2,1369.8 C1745,1363 1737,1355.9 1728.8,1348.7 C1720.6,1341.5 1712.4,1334.2 1704.3,1326.7 C1696.2,1319.2 1688.1,1311.8 1679.9,1303.6 C1671.8,1295.5 1663.8,1286.9 1655.4,1277.8 C1647,1268.6 1637.2,1257 1629.7,1248.9 C1622.2,1240.7 1616.6,1235 1610.1,1228.7 C1603.6,1222.4 1597,1216.9 1590.5,1211 C1584,1205.1 1577.5,1199.4 1571,1193.6 C1564.5,1187.7 1557.9,1181.7 1551.4,1175.8 C1544.9,1169.8 1538.3,1164.1 1531.8,1157.9 C1525.3,1151.6 1518.8,1145.3 1512.3,1138.4 C1505.8,1131.5 1499.2,1123.8 1492.7,1116.4 C1486.2,1109 1479.6,1101.1 1473.1,1093.8 C1466.6,1086.6 1460,1079.4 1453.5,1072.8 C1447,1066.3 1440.5,1060.2 1434,1054.3 C1427.5,1048.4 1420.9,1042.9 1414.4,1037.5 C1407.9,1032.1 1401.3,1027 1394.8,1021.9 C1388.3,1016.9 1381.8,1012.1 1375.3,1007.4 C1368.8,1002.7 1362.2,998.2 1355.7,993.9 C1349.2,989.6 1342.6,985.5 1336.1,981.7 C1329.6,977.8 1323.1,974.2 1316.6,970.8 C1310.1,967.4 1303.5,964.3 1297,961.5 C1290.5,958.7 1283.9,956.3 1277.4,954.1 C1270.9,951.8 1264.3,949.3 1257.8,948.1 C1251.3,946.9 1244.4,946.8 1238.3,946.8 C1232.2,946.8 1226.1,947.1 1221.2,948.1 C1216.3,949.1 1213,950.8 1208.9,953 C1204.8,955.2 1201.2,960.7 1196.7,961.5 C1192.2,962.3 1186.5,958.8 1182,957.8 C1177.5,956.8 1173.1,955 1169.8,955.4 C1166.5,955.8 1165.2,958.8 1162.3,960.3 C1159.4,961.8 1155.8,964.3 1152.5,964.7 C1149.2,965.1 1146,963.9 1142.8,962.7 C1139.5,961.6 1136.3,957.8 1133,957.8 C1129.7,957.8 1126.5,961.3 1123.2,962.7 C1119.9,964.1 1116.7,966.2 1113.4,966.4 C1110.1,966.6 1106.9,965 1103.6,964 C1100.3,963 1097,960.5 1093.8,960.3 C1090.5,960.1 1087.3,961.5 1084.1,962.7 C1080.8,963.9 1077.6,967 1074.3,967.6 C1071,968.2 1067.8,967 1064.5,966.4 C1061.2,965.8 1058.4,964 1054.7,964 C1051,964 1046.6,965.6 1042.5,966.4 C1038.4,967.2 1033.9,968.7 1030.2,968.9 C1026.5,969.1 1024,968.1 1020.5,967.6 C1017,967.1 1013.1,965.5 1009.4,965.7 C1005.7,965.9 1001.9,967.7 998.4,968.9 C994.9,970.1 991.9,972.8 988.6,973 C985.4,973.2 982.1,971.4 978.9,970.1 C975.6,968.8 972.8,965 969.1,965.2 C965.4,965.4 960.5,969.5 956.8,971.3 C953.1,973.1 951.2,976.2 947.1,976.2 C943,976.2 936.9,971.5 932.4,971.3 C927.9,971.1 923.5,973.6 920.2,975 C916.9,976.4 915.7,978.9 912.8,979.9 C909.9,980.9 907.1,981.3 903,981.1 C898.9,980.9 892.5,978.4 888.4,978.6 C884.3,978.8 881.9,980.9 878.6,982.3 C875.3,983.7 872.5,986.6 868.8,987.2 C865.1,987.8 860.3,986.6 856.6,986 C852.9,985.4 850.1,983.3 846.8,983.5 C843.5,983.7 840.3,985.4 837,987.2 C833.7,989 830.5,993.3 827.2,994.5 C823.9,995.7 820.7,994.9 817.4,994.5 C814.1,994.1 811.3,991.7 807.6,992.1 C803.9,992.5 799.1,995 795.4,997 C791.7,999 788.9,1003 785.6,1004.3 C782.3,1005.6 779.1,1005 775.8,1004.8 C772.5,1004.6 769.2,1002.8 766,1003.1 C762.8,1003.4 759.5,1005 756.3,1006.8 C753,1008.5 751.8,1012.5 746.5,1013.6 C741.2,1014.7 729.8,1013.3 724.5,1013.6 C719.2,1013.9 718,1013.6 714.7,1015.3 C711.4,1016.9 708.5,1022.7 704.8,1023.5 C701.1,1024.3 696.2,1020.1 692.5,1019.9 C688.8,1019.7 686.5,1020.1 682.8,1022.3 C679.1,1024.5 674.2,1030.8 670.5,1033.3 C666.8,1035.8 664.4,1037.2 660.7,1037 C657,1036.8 652.2,1032.1 648.5,1032.1 C644.8,1032.1 642.4,1034.3 638.7,1037 C635,1039.7 630.6,1046.8 626.5,1048 C622.4,1049.2 618.4,1045.5 614.3,1044.3 C610.2,1043.1 606.5,1041 602,1040.7 C597.5,1040.4 591.9,1041 587.4,1042.4 C582.9,1043.8 579.6,1046.4 575.1,1049.2 C570.6,1052 565.4,1055.3 560.5,1059 C555.6,1062.7 550.3,1068.5 545.8,1071.2 C541.3,1073.9 538.4,1075.3 533.5,1074.9 C528.6,1074.5 521.3,1070.2 516.4,1068.8 C511.5,1067.4 508.3,1065.9 504.2,1066.3 C500.1,1066.7 496.5,1067.5 492,1071.2 C487.5,1074.9 482.6,1083.5 477.3,1088.4 C472,1093.3 465.9,1096.9 460.2,1100.6 C454.5,1104.3 447.5,1108.4 443,1110.4 C438.5,1112.4 436.9,1113.6 433.2,1112.8 C429.5,1112 425.1,1104.7 421,1105.5 C416.9,1106.3 412.5,1112.8 408.8,1117.7 C405.1,1122.6 402.7,1130.7 399,1134.8 C395.3,1138.9 392.1,1138.1 386.8,1142.2 C381.5,1146.3 372.1,1152.8 367.2,1159.3 C362.3,1165.8 360.9,1175.2 357.4,1181.3 C353.9,1187.4 348.9,1190.7 346.2,1196 C343.4,1201.3 342.7,1207.5 340.9,1213.2 C339.1,1218.9 337.3,1224.7 335.5,1230 C333.7,1235.3 331.8,1240 330,1245 C328.2,1250 326.7,1253.7 325,1259.7 C323.3,1265.7 321.5,1274.3 319.7,1280.9 C317.9,1287.5 315.9,1293.1 314.4,1299.5 C312.8,1305.9 311.8,1312.7 310.4,1319.4 C309,1326.2 307.5,1332.9 306,1340 C304.5,1347.1 302.8,1355.5 301.5,1362 C300.2,1368.5 299.3,1371.9 298.4,1379.2 C297.4,1386.5 296.6,1393.7 295.8,1405.8 C295.1,1417.9 295.2,1439.4 293.9,1452 C292.6,1464.6 289.6,1469.2 288.1,1481.5 C286.6,1493.8 286.2,1512.4 285.1,1525.5 C284,1538.6 282.9,1547.6 281.5,1560 C280.1,1572.4 278.1,1589.2 277,1600 C275.9,1610.8 275.5,1616.7 275,1625 C274.5,1633.3 274.4,1639.2 274,1650 C273.6,1660.8 273.1,1675.8 272.5,1690 C271.9,1704.2 271.2,1721.7 270.5,1735 C269.8,1748.3 269.2,1758.8 268.5,1770 C267.8,1781.2 267.3,1790.3 266.5,1802 C265.7,1813.7 264.5,1827.8 263.5,1840 C262.5,1852.2 261.3,1865.2 260.5,1875 C259.7,1884.8 259,1895 258.7,1899" fill="none" stroke="#7030A0" stroke-width="4.2" stroke-linejoin="round" stroke-linecap="round"/>
</g>
<path d="M258.7,1899 C258.7,1882.5 258.6,1827.5 258.7,1800 C258.8,1772.5 258.8,1759 259,1734 C259.2,1709 259.6,1675 260,1650 C260.4,1625 260.9,1617.3 261.6,1584 C262.3,1550.7 263.7,1490.7 264.3,1450 C264.9,1409.3 264.7,1398.3 265.3,1340 C265.9,1281.7 266.9,1170 268,1100 C269.1,1030 271.2,958.2 272,920 C272.8,881.8 272.5,891.3 273,871 C273.5,850.7 274.3,822.4 275,798 C275.7,773.6 276.4,749.1 277,724.6 C277.6,700.1 278.2,673.4 278.8,651 C279.4,628.6 279.5,607.1 280.6,590 C281.7,572.9 284.5,555.4 285.3,548.5" fill="none" stroke="#7030A0" stroke-width="6.4" stroke-linecap="round"/>
<path d="M319.7,1280.9 C318.8,1284 315.9,1293.1 314.4,1299.5 C312.8,1305.9 311.8,1312.7 310.4,1319.4 C309,1326.2 307.5,1332.9 306,1340 C304.5,1347.1 302.8,1355.5 301.5,1362 C300.2,1368.5 299.3,1371.9 298.4,1379.2 C297.4,1386.5 296.6,1393.7 295.8,1405.8 C295.1,1417.9 295.2,1439.4 293.9,1452 C292.6,1464.6 289.6,1469.2 288.1,1481.5 C286.6,1493.8 286.2,1512.4 285.1,1525.5 C284,1538.6 282.9,1547.6 281.5,1560 C280.1,1572.4 278.1,1589.2 277,1600 C275.9,1610.8 275.5,1616.7 275,1625 C274.5,1633.3 274.4,1639.2 274,1650 C273.6,1660.8 273.1,1675.8 272.5,1690 C271.9,1704.2 271.2,1721.7 270.5,1735 C269.8,1748.3 269.2,1758.8 268.5,1770 C267.8,1781.2 267.3,1790.3 266.5,1802 C265.7,1813.7 264.5,1827.8 263.5,1840 C262.5,1852.2 261.3,1865.2 260.5,1875 C259.7,1884.8 259,1895 258.7,1899" fill="none" stroke="#7030A0" stroke-width="6.4" stroke-linecap="round"/>
<path d="M331,1226.5 L334.3,1235.5 L338.5,1222" fill="none" stroke="#7030A0" stroke-width="4.2" stroke-linejoin="round" stroke-linecap="round"/>
<path d="M305.5,1336 L308.2,1355.5 L309.5,1333" fill="none" stroke="#7030A0" stroke-width="4.2" stroke-linejoin="round" stroke-linecap="round"/>
<rect x="1717.2" y="84.8" width="586.8" height="542" fill="#fff" stroke="#000" stroke-width="2.6"/>
<line x1="1732.5" y1="131.4" x2="1804.3" y2="131.4" stroke="#FF0000" stroke-width="4.9"/>
<rect x="1753.9" y="205.9" width="29.2" height="29.2" fill="none" stroke="#0070C0" stroke-width="5"/>
<circle cx="1768.5" cy="311.3" r="14.8" fill="none" stroke="#00B050" stroke-width="5"/>
<line x1="1732.5" y1="401.8" x2="1804.3" y2="401.8" stroke="#3B65AE" stroke-width="4.9"/>
<line x1="1732.5" y1="492.4" x2="1804.3" y2="492.4" stroke="#629A3C" stroke-width="4.9"/>
<line x1="1732.5" y1="580.9" x2="1804.3" y2="580.9" stroke="#7030A0" stroke-width="4.9"/>
<text x="111.9" y="99.4" font-size="48.6" textLength="92.5" lengthAdjust="spacingAndGlyphs">-1.5</text>
<text x="111.7" y="444.1" font-size="48.6" textLength="94.7" lengthAdjust="spacingAndGlyphs">-1.0</text>
<text x="111.8" y="788.6" font-size="48.6" textLength="92.7" lengthAdjust="spacingAndGlyphs">-0.5</text>
<text x="130.7" y="1134.1" font-size="48.6" textLength="79.7" lengthAdjust="spacingAndGlyphs">0.0</text>
<text x="130.8" y="1476.6" font-size="48.6" textLength="76.4" lengthAdjust="spacingAndGlyphs">0.5</text>
<text x="131.5" y="1821.6" font-size="48.6" textLength="78.9" lengthAdjust="spacingAndGlyphs">1.0</text>
<text x="219.3" y="2032.6" font-size="48.6" textLength="79.8" lengthAdjust="spacingAndGlyphs">0.0</text>
<text x="625.2" y="2032.6" font-size="48.6" textLength="77.5" lengthAdjust="spacingAndGlyphs">0.2</text>
<text x="1032.3" y="2032.6" font-size="48.6" textLength="76.3" lengthAdjust="spacingAndGlyphs">0.4</text>
<text x="1438.9" y="2032.6" font-size="48.6" textLength="76.4" lengthAdjust="spacingAndGlyphs">0.6</text>
<text x="1844.7" y="2032.6" font-size="48.6" textLength="78.3" lengthAdjust="spacingAndGlyphs">0.8</text>
<text x="2253.0" y="2032.6" font-size="48.6" textLength="77.4" lengthAdjust="spacingAndGlyphs">1.0</text>
<text y="143.9" font-size="48.2"><tspan x="1809.9" textLength="91.1" lengthAdjust="spacingAndGlyphs">CFD</tspan> <tspan x="1914.8" textLength="82.3" lengthAdjust="spacingAndGlyphs">(Xu</tspan> <tspan x="2006.8" textLength="49.8" lengthAdjust="spacingAndGlyphs">et</tspan> <tspan x="2069.3" textLength="70.3" lengthAdjust="spacingAndGlyphs">al.,</tspan> <tspan x="2154.9" textLength="133.1" lengthAdjust="spacingAndGlyphs">2014)</tspan></text>
<text y="235.7" font-size="48.2"><tspan x="1809.3" textLength="240.0" lengthAdjust="spacingAndGlyphs">EXP-NASA</tspan> <tspan x="2061.9" textLength="78.6" lengthAdjust="spacingAndGlyphs">TM</tspan> <tspan x="2154.8" textLength="113.6" lengthAdjust="spacingAndGlyphs">4601</tspan></text>
<text y="325.7" font-size="48.2"><tspan x="1809.1" textLength="243.2" lengthAdjust="spacingAndGlyphs">CFD-NASA</tspan> <tspan x="2065.0" textLength="78.6" lengthAdjust="spacingAndGlyphs">TM</tspan> <tspan x="2157.3" textLength="113.6" lengthAdjust="spacingAndGlyphs">4601</tspan></text>
<text y="416.6" font-size="48.2"><tspan x="1809.7" textLength="163.2" lengthAdjust="spacingAndGlyphs">LOGOS</tspan><tspan x="1975.9" textLength="29.2" lengthAdjust="spacingAndGlyphs">_</tspan><tspan x="2002.2" textLength="133.9" lengthAdjust="spacingAndGlyphs">geom</tspan><tspan x="2138.4" textLength="26.2" lengthAdjust="spacingAndGlyphs">1</tspan></text>
<text y="507.7" font-size="48.2"><tspan x="1809.7" textLength="163.2" lengthAdjust="spacingAndGlyphs">LOGOS</tspan><tspan x="1975.9" textLength="29.2" lengthAdjust="spacingAndGlyphs">_</tspan><tspan x="2002.2" textLength="133.9" lengthAdjust="spacingAndGlyphs">geom</tspan><tspan x="2137.5" textLength="27.4" lengthAdjust="spacingAndGlyphs">2</tspan></text>
<text y="595.8" font-size="48.2"><tspan x="1809.7" textLength="163.2" lengthAdjust="spacingAndGlyphs">LOGOS</tspan><tspan x="1975.9" textLength="29.2" lengthAdjust="spacingAndGlyphs">_</tspan><tspan x="2002.2" textLength="133.9" lengthAdjust="spacingAndGlyphs">geom</tspan><tspan x="2138.5" textLength="25.7" lengthAdjust="spacingAndGlyphs">3</tspan></text>
<text transform="rotate(-90)" x="-988.3" y="124" font-size="89" font-weight="normal" stroke="#000" stroke-width="2.7" stroke-linejoin="round" textLength="103.8" lengthAdjust="spacingAndGlyphs">Cp</text>
<text font-weight="normal" stroke="#000" stroke-width="3.8" stroke-linejoin="round" font-size="81"><tspan x="1165.3" y="2076.4" textLength="38.2" lengthAdjust="spacingAndGlyphs">x</tspan><tspan x="1209.6" y="2091.2" font-size="116" stroke-width="1.6" textLength="37.5" lengthAdjust="spacingAndGlyphs">/</tspan><tspan x="1249.1" y="2076.4" textLength="39.0" lengthAdjust="spacingAndGlyphs">c</tspan></text>
</svg>
</body></html>
